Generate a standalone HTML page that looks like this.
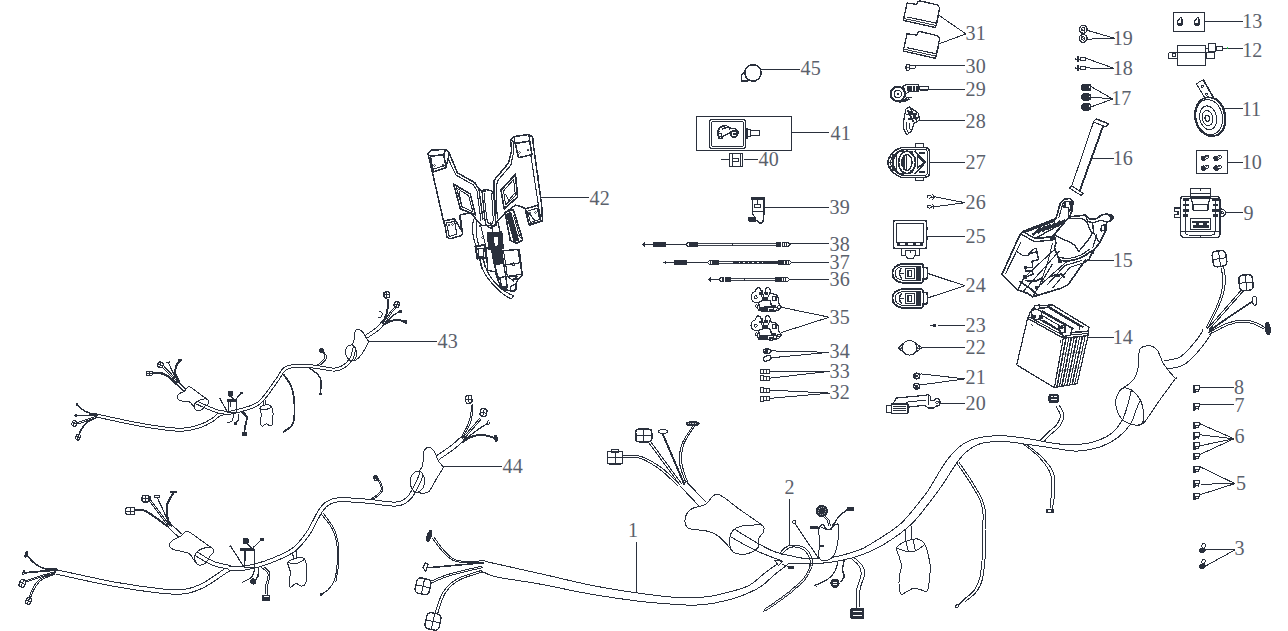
<!DOCTYPE html>
<html><head><meta charset="utf-8"><title>Electrical system parts diagram</title>
<style>
html,body{margin:0;padding:0;background:#fff;}
body{width:1288px;height:631px;overflow:hidden;font-family:"Liberation Serif",serif;}
svg{display:block;}
svg text{font-family:"Liberation Serif",serif;}
</style></head><body>
<svg width="1288" height="631" viewBox="0 0 1288 631" shape-rendering="crispEdges">
<rect x="0" y="0" width="1288" height="631" fill="#fff"/>
<g transform="translate(0,0.6)">
<text transform="translate(1242.3,27.2) scale(0.98,1.07)" font-size="20.5" fill="#5b616c">13</text>
<text transform="translate(1242.3,56.1) scale(0.98,1.07)" font-size="20.5" fill="#5b616c">12</text>
<text transform="translate(1241.7,115.3) scale(0.98,1.07)" font-size="20.5" fill="#5b616c">11</text>
<text transform="translate(1241.7,168.1) scale(0.98,1.07)" font-size="20.5" fill="#5b616c">10</text>
<text transform="translate(1243.4,219.6) scale(0.98,1.07)" font-size="20.5" fill="#5b616c">9</text>
<text transform="translate(1234.1,393.6) scale(0.98,1.07)" font-size="20.5" fill="#5b616c">8</text>
<text transform="translate(1234.6,411.1) scale(0.98,1.07)" font-size="20.5" fill="#5b616c">7</text>
<text transform="translate(1234.6,442.8) scale(0.98,1.07)" font-size="20.5" fill="#5b616c">6</text>
<text transform="translate(1236.1,489.6) scale(0.98,1.07)" font-size="20.5" fill="#5b616c">5</text>
<text transform="translate(1234.6,554.2) scale(0.98,1.07)" font-size="20.5" fill="#5b616c">3</text>
<text transform="translate(1112.8,44.2) scale(0.98,1.07)" font-size="20.5" fill="#5b616c">19</text>
<text transform="translate(1112.8,74.6) scale(0.98,1.07)" font-size="20.5" fill="#5b616c">18</text>
<text transform="translate(1111.3,104.2) scale(0.98,1.07)" font-size="20.5" fill="#5b616c">17</text>
<text transform="translate(1112.8,164.6) scale(0.98,1.07)" font-size="20.5" fill="#5b616c">16</text>
<text transform="translate(1112.7,266.3) scale(0.98,1.07)" font-size="20.5" fill="#5b616c">15</text>
<text transform="translate(1112.7,343.1) scale(0.98,1.07)" font-size="20.5" fill="#5b616c">14</text>
<text transform="translate(965.6,39.3) scale(0.98,1.07)" font-size="20.5" fill="#5b616c">31</text>
<text transform="translate(965.6,71.9) scale(0.98,1.07)" font-size="20.5" fill="#5b616c">30</text>
<text transform="translate(965.6,94.9) scale(0.98,1.07)" font-size="20.5" fill="#5b616c">29</text>
<text transform="translate(965.6,126.9) scale(0.98,1.07)" font-size="20.5" fill="#5b616c">28</text>
<text transform="translate(965.6,168.1) scale(0.98,1.07)" font-size="20.5" fill="#5b616c">27</text>
<text transform="translate(965.6,208.8) scale(0.98,1.07)" font-size="20.5" fill="#5b616c">26</text>
<text transform="translate(965.6,242.1) scale(0.98,1.07)" font-size="20.5" fill="#5b616c">25</text>
<text transform="translate(965.6,291.3) scale(0.98,1.07)" font-size="20.5" fill="#5b616c">24</text>
<text transform="translate(965.6,331.5) scale(0.98,1.07)" font-size="20.5" fill="#5b616c">23</text>
<text transform="translate(965.6,353.8) scale(0.98,1.07)" font-size="20.5" fill="#5b616c">22</text>
<text transform="translate(965.6,383.5) scale(0.98,1.07)" font-size="20.5" fill="#5b616c">21</text>
<text transform="translate(965.6,409.6) scale(0.98,1.07)" font-size="20.5" fill="#5b616c">20</text>
<text transform="translate(800.6,74.4) scale(0.98,1.07)" font-size="20.5" fill="#5b616c">45</text>
<text transform="translate(830.6,139.0) scale(0.98,1.07)" font-size="20.5" fill="#5b616c">41</text>
<text transform="translate(758.6,165.5) scale(0.98,1.07)" font-size="20.5" fill="#5b616c">40</text>
<text transform="translate(829.6,213.3) scale(0.98,1.07)" font-size="20.5" fill="#5b616c">39</text>
<text transform="translate(829.6,250.5) scale(0.98,1.07)" font-size="20.5" fill="#5b616c">38</text>
<text transform="translate(829.6,268.3) scale(0.98,1.07)" font-size="20.5" fill="#5b616c">37</text>
<text transform="translate(829.6,285.5) scale(0.98,1.07)" font-size="20.5" fill="#5b616c">36</text>
<text transform="translate(829.6,323.8) scale(0.98,1.07)" font-size="20.5" fill="#5b616c">35</text>
<text transform="translate(829.6,357.3) scale(0.98,1.07)" font-size="20.5" fill="#5b616c">34</text>
<text transform="translate(829.6,377.1) scale(0.98,1.07)" font-size="20.5" fill="#5b616c">33</text>
<text transform="translate(829.6,398.1) scale(0.98,1.07)" font-size="20.5" fill="#5b616c">32</text>
<text transform="translate(589.6,204.1) scale(0.98,1.07)" font-size="20.5" fill="#5b616c">42</text>
<text transform="translate(437.6,347.6) scale(0.98,1.07)" font-size="20.5" fill="#5b616c">43</text>
<text transform="translate(502.6,472.1) scale(0.98,1.07)" font-size="20.5" fill="#5b616c">44</text>
<text transform="translate(627.9,536.3) scale(0.98,1.07)" font-size="20.5" fill="#5b616c">1</text>
<text transform="translate(784.6,493.1) scale(0.98,1.07)" font-size="20.5" fill="#5b616c">2</text>
<line x1="1205.0" y1="20.9" x2="1243.0" y2="20.9" stroke="#2a303c" stroke-width="1"/>
<line x1="1222.7" y1="47.9" x2="1243.0" y2="47.9" stroke="#2a303c" stroke-width="1"/>
<line x1="1223.0" y1="107.9" x2="1243.0" y2="107.9" stroke="#2a303c" stroke-width="1"/>
<line x1="1227.6" y1="161.9" x2="1243.0" y2="161.9" stroke="#2a303c" stroke-width="1"/>
<line x1="1225.4" y1="211.9" x2="1243.0" y2="211.9" stroke="#2a303c" stroke-width="1"/>
<line x1="1199.7" y1="386.9" x2="1234.0" y2="386.9" stroke="#2a303c" stroke-width="1"/>
<line x1="1199.7" y1="403.9" x2="1234.0" y2="403.9" stroke="#2a303c" stroke-width="1"/>
<line x1="1200.3" y1="423.3" x2="1234.0" y2="438.2" stroke="#2a303c" stroke-width="1"/>
<line x1="1200.3" y1="434.2" x2="1234.0" y2="438.2" stroke="#2a303c" stroke-width="1"/>
<line x1="1200.3" y1="445.1" x2="1234.0" y2="438.2" stroke="#2a303c" stroke-width="1"/>
<line x1="1199.7" y1="454.0" x2="1234.0" y2="438.2" stroke="#2a303c" stroke-width="1"/>
<line x1="1200.3" y1="466.3" x2="1235.0" y2="483.0" stroke="#2a303c" stroke-width="1"/>
<line x1="1201.3" y1="483.6" x2="1235.0" y2="483.0" stroke="#2a303c" stroke-width="1"/>
<line x1="1199.3" y1="494.3" x2="1235.0" y2="483.0" stroke="#2a303c" stroke-width="1"/>
<line x1="1206.2" y1="548.9" x2="1235.0" y2="548.9" stroke="#2a303c" stroke-width="1"/>
<line x1="1206.2" y1="565.1" x2="1235.0" y2="549.3" stroke="#2a303c" stroke-width="1"/>
<line x1="1087.1" y1="29.7" x2="1114.5" y2="37.6" stroke="#2a303c" stroke-width="1"/>
<line x1="1087.1" y1="38.6" x2="1114.5" y2="37.6" stroke="#2a303c" stroke-width="1"/>
<line x1="1085.1" y1="57.4" x2="1114.5" y2="67.9" stroke="#2a303c" stroke-width="1"/>
<line x1="1085.1" y1="67.3" x2="1114.5" y2="67.9" stroke="#2a303c" stroke-width="1"/>
<line x1="1091.1" y1="86.1" x2="1112.9" y2="98.4" stroke="#2a303c" stroke-width="1"/>
<line x1="1091.1" y1="96.4" x2="1112.9" y2="98.4" stroke="#2a303c" stroke-width="1"/>
<line x1="1091.1" y1="106.3" x2="1112.9" y2="98.4" stroke="#2a303c" stroke-width="1"/>
<line x1="1091.5" y1="157.9" x2="1113.9" y2="157.9" stroke="#2a303c" stroke-width="1"/>
<line x1="1088.0" y1="259.9" x2="1113.8" y2="259.9" stroke="#2a303c" stroke-width="1"/>
<line x1="1087.0" y1="336.9" x2="1113.8" y2="336.9" stroke="#2a303c" stroke-width="1"/>
<line x1="939.2" y1="14.9" x2="965.9" y2="33.3" stroke="#2a303c" stroke-width="1"/>
<line x1="939.2" y1="43.2" x2="965.9" y2="33.3" stroke="#2a303c" stroke-width="1"/>
<line x1="914.5" y1="64.9" x2="965.3" y2="64.9" stroke="#2a303c" stroke-width="1"/>
<line x1="928.3" y1="88.9" x2="965.0" y2="88.9" stroke="#2a303c" stroke-width="1"/>
<line x1="919.4" y1="119.9" x2="965.0" y2="119.9" stroke="#2a303c" stroke-width="1"/>
<line x1="929.7" y1="161.9" x2="965.0" y2="161.9" stroke="#2a303c" stroke-width="1"/>
<line x1="935.2" y1="196.2" x2="965.0" y2="202.1" stroke="#2a303c" stroke-width="1"/>
<line x1="935.2" y1="206.1" x2="965.0" y2="202.1" stroke="#2a303c" stroke-width="1"/>
<line x1="926.3" y1="235.9" x2="965.0" y2="235.9" stroke="#2a303c" stroke-width="1"/>
<line x1="928.3" y1="273.0" x2="965.0" y2="285.2" stroke="#2a303c" stroke-width="1"/>
<line x1="928.3" y1="297.1" x2="965.0" y2="285.2" stroke="#2a303c" stroke-width="1"/>
<line x1="938.2" y1="324.9" x2="965.0" y2="324.9" stroke="#2a303c" stroke-width="1"/>
<line x1="921.8" y1="346.9" x2="965.0" y2="346.9" stroke="#2a303c" stroke-width="1"/>
<line x1="921.4" y1="373.3" x2="965.0" y2="378.3" stroke="#2a303c" stroke-width="1"/>
<line x1="921.4" y1="384.2" x2="965.0" y2="378.3" stroke="#2a303c" stroke-width="1"/>
<line x1="940.2" y1="402.9" x2="965.0" y2="402.9" stroke="#2a303c" stroke-width="1"/>
<line x1="761.3" y1="68.9" x2="799.9" y2="68.9" stroke="#2a303c" stroke-width="1"/>
<line x1="791.0" y1="131.9" x2="828.6" y2="131.9" stroke="#2a303c" stroke-width="1"/>
<line x1="743.5" y1="158.9" x2="758.3" y2="158.9" stroke="#2a303c" stroke-width="1"/>
<line x1="764.4" y1="206.9" x2="829.1" y2="206.9" stroke="#2a303c" stroke-width="1"/>
<line x1="790.0" y1="242.9" x2="829.0" y2="242.9" stroke="#2a303c" stroke-width="1"/>
<line x1="790.0" y1="261.9" x2="829.0" y2="261.9" stroke="#2a303c" stroke-width="1"/>
<line x1="790.0" y1="278.9" x2="829.0" y2="278.9" stroke="#2a303c" stroke-width="1"/>
<line x1="781.4" y1="306.7" x2="829.3" y2="316.6" stroke="#2a303c" stroke-width="1"/>
<line x1="781.4" y1="331.9" x2="829.3" y2="316.6" stroke="#2a303c" stroke-width="1"/>
<line x1="771.1" y1="350.3" x2="829.3" y2="351.7" stroke="#2a303c" stroke-width="1"/>
<line x1="771.1" y1="357.2" x2="829.3" y2="351.7" stroke="#2a303c" stroke-width="1"/>
<line x1="769.5" y1="370.9" x2="829.9" y2="370.9" stroke="#2a303c" stroke-width="1"/>
<line x1="769.5" y1="377.6" x2="829.9" y2="370.7" stroke="#2a303c" stroke-width="1"/>
<line x1="769.5" y1="389.5" x2="829.9" y2="392.5" stroke="#2a303c" stroke-width="1"/>
<line x1="769.5" y1="397.8" x2="829.9" y2="392.5" stroke="#2a303c" stroke-width="1"/>
<line x1="538.8" y1="196.9" x2="589.0" y2="196.9" stroke="#2a303c" stroke-width="1"/>
<line x1="368.3" y1="340.9" x2="437.0" y2="340.9" stroke="#2a303c" stroke-width="1"/>
<line x1="443.2" y1="465.9" x2="501.6" y2="465.9" stroke="#2a303c" stroke-width="1"/>
<line x1="636.5" y1="541.2" x2="636.5" y2="592.2" stroke="#2a303c" stroke-width="1"/>
<line x1="789.5" y1="497.9" x2="789.5" y2="545.0" stroke="#2a303c" stroke-width="1"/>
<rect x="1173.5" y="11.9" width="31.0" height="19.0" rx="0" stroke="#2a303c" stroke-width="1" fill="none" />
<path d="M1178.0,24 q-1.5,-3 1,-5 q1.5,-3.5 3,-0.5 l0,5.5 q-2,2.5 -4,0 z" stroke="#2a303c" stroke-width="1.2" fill="none" />
<rect x="1178.3" y="22.2" width="3.0" height="2.6" fill="#2a303c"/>
<path d="M1195.0,24 q-1.5,-3 1,-5 q1.5,-3.5 3,-0.5 l0,5.5 q-2,2.5 -4,0 z" stroke="#2a303c" stroke-width="1.2" fill="none" />
<rect x="1195.3" y="22.2" width="3.0" height="2.6" fill="#2a303c"/>
<rect x="1177.5" y="44.9" width="28.0" height="20.0" rx="0" stroke="#2a303c" stroke-width="1" fill="none" />
<line x1="1177.5" y1="51.9" x2="1205.0" y2="51.9" stroke="#2a303c" stroke-width="1"/>
<rect x="1208.5" y="42.9" width="7.0" height="8.0" rx="0" stroke="#2a303c" stroke-width="1" fill="none" />
<rect x="1216.5" y="45.9" width="6.0" height="4.0" rx="0" stroke="#2a303c" stroke-width="1" fill="none" />
<line x1="1205.0" y1="47.9" x2="1208.0" y2="47.9" stroke="#2a303c" stroke-width="1"/>
<line x1="1215.0" y1="47.9" x2="1217.0" y2="47.9" stroke="#2a303c" stroke-width="1"/>
<rect x="1168.5" y="51.9" width="9.0" height="6.0" rx="1.5" stroke="#2a303c" stroke-width="1" fill="none" />
<rect x="1172.2" y="53.2" width="3.0" height="3.0" rx="0" stroke="#2a303c" stroke-width="1" fill="none" />
<rect x="1206.5" y="51.9" width="8.0" height="6.0" rx="1.2" stroke="#2a303c" stroke-width="1" fill="none" />
<line x1="1205.2" y1="54.9" x2="1206.2" y2="54.9" stroke="#2a303c" stroke-width="1"/>
<line x1="1227.5" y1="46.2" x2="1227.5" y2="48.2" stroke="#22cc44" stroke-width="1"/>
<path d="M1196.3,83.2 L1203.2,79.2 L1217.2,103.5 L1211.0,107.5 Z" stroke="#2a303c" stroke-width="1" fill="none" stroke-linejoin="round"/>
<line x1="1203.2" y1="79.2" x2="1217.2" y2="103.5" stroke="#2a303c" stroke-width="1.6"/>
<circle cx="1202.3" cy="85.6" r="1.1" stroke="#2a303c" stroke-width="1" fill="none"/>
<circle cx="1206.6" cy="93.6" r="1.1" stroke="#2a303c" stroke-width="1" fill="none"/>
<ellipse cx="1210.2" cy="116.1" rx="15.2" ry="19.6" transform="rotate(-12 1210.2 116.1)" stroke="#2a303c" stroke-width="1.6" fill="#fff"/>
<ellipse cx="1209.2" cy="116.5" rx="13.2" ry="17.8" transform="rotate(-12 1209.2 116.5)" stroke="#2a303c" stroke-width="1" fill="none"/>
<ellipse cx="1208.2" cy="117.2" rx="8.5" ry="12" transform="rotate(-12 1208.2 117.2)" stroke="#2a303c" stroke-width="1" fill="none"/>
<ellipse cx="1207.6" cy="117.5" rx="5.3" ry="7.6" transform="rotate(-12 1207.6 117.5)" stroke="#2a303c" stroke-width="1" fill="none"/>
<ellipse cx="1207.3" cy="117.7" rx="2.2" ry="3" transform="rotate(-12 1207.3 117.7)" stroke="#2a303c" stroke-width="1.3" fill="none"/>
<path d="M1216,98.5 Q1226.5,106 1225,124 Q1223,131 1218,134.5" stroke="#2a303c" stroke-width="2.2" fill="none" />
<rect x="1196.5" y="149.9" width="31.0" height="23.0" rx="0" stroke="#2a303c" stroke-width="1" fill="none" />
<ellipse cx="1203.4" cy="157.9" rx="2.2" ry="2.4" transform="rotate(-30 1203.4 157.9)" stroke="#2a303c" stroke-width="1" fill="#2a303c"/>
<ellipse cx="1206.4" cy="156.7" rx="2.4" ry="1.6" transform="rotate(-20 1206.4 156.7)" stroke="#2a303c" stroke-width="1" fill="#fff"/>
<line x1="1201.0" y1="159.5" x2="1208.0" y2="155.1" stroke="#2a303c" stroke-width="0.8"/>
<ellipse cx="1216.2" cy="157.9" rx="2.2" ry="2.4" transform="rotate(-30 1216.2 157.9)" stroke="#2a303c" stroke-width="1" fill="#2a303c"/>
<ellipse cx="1219.2" cy="156.7" rx="2.4" ry="1.6" transform="rotate(-20 1219.2 156.7)" stroke="#2a303c" stroke-width="1" fill="#fff"/>
<line x1="1213.8" y1="159.5" x2="1220.8" y2="155.1" stroke="#2a303c" stroke-width="0.8"/>
<ellipse cx="1203.4" cy="167.7" rx="2.2" ry="2.4" transform="rotate(-30 1203.4 167.7)" stroke="#2a303c" stroke-width="1" fill="#2a303c"/>
<ellipse cx="1206.4" cy="166.5" rx="2.4" ry="1.6" transform="rotate(-20 1206.4 166.5)" stroke="#2a303c" stroke-width="1" fill="#fff"/>
<line x1="1201.0" y1="169.3" x2="1208.0" y2="164.9" stroke="#2a303c" stroke-width="0.8"/>
<ellipse cx="1216.2" cy="167.7" rx="2.2" ry="2.4" transform="rotate(-30 1216.2 167.7)" stroke="#2a303c" stroke-width="1" fill="#2a303c"/>
<ellipse cx="1219.2" cy="166.5" rx="2.4" ry="1.6" transform="rotate(-20 1219.2 166.5)" stroke="#2a303c" stroke-width="1" fill="#fff"/>
<line x1="1213.8" y1="169.3" x2="1220.8" y2="164.9" stroke="#2a303c" stroke-width="0.8"/>
<rect x="1190.5" y="187.9" width="20.0" height="9.0" rx="1.5" stroke="#2a303c" stroke-width="1.3" fill="#fff" />
<line x1="1190.4" y1="192.9" x2="1210.8" y2="192.9" stroke="#2a303c" stroke-width="1"/>
<line x1="1200.5" y1="187.4" x2="1200.5" y2="190.0" stroke="#2a303c" stroke-width="1"/>
<path d="M1184.5,195.6 H1216 Q1220,195.6 1220,199.6 V233 Q1220,237 1216,237 H1184.5 Q1180.5,237 1180.5,233 V199.6 Q1180.5,195.6 1184.5,195.6 Z" stroke="#2a303c" stroke-width="1.4" fill="none" />
<path d="M1185.5,198 H1215 V231.5 Q1215,234.4 1212,234.4 H1188.5 Q1185.5,234.4 1185.5,231.5 Z" stroke="#2a303c" stroke-width="1" fill="none" />
<line x1="1181.0" y1="230.9" x2="1220.0" y2="230.9" stroke="#2a303c" stroke-width="1.4"/>
<path d="M1190.0,196.0 L1193.0,203.5 L1193.0,209.5 L1208.0,209.5 L1208.0,203.5 L1211.0,196.0" stroke="#2a303c" stroke-width="1.1" fill="none" stroke-linejoin="round"/>
<line x1="1193.0" y1="203.9" x2="1208.0" y2="203.9" stroke="#2a303c" stroke-width="1"/>
<rect x="1182.5" y="197.5" width="6.5" height="3.0" fill="#2a303c"/>
<rect x="1183.0" y="203.0" width="5.5" height="2.6" fill="#2a303c"/>
<rect x="1182.5" y="208.3" width="6.5" height="2.6" fill="#2a303c"/>
<rect x="1183.3" y="213.5" width="5.0" height="2.6" fill="#2a303c"/>
<rect x="1212.0" y="197.5" width="6.5" height="3.0" fill="#2a303c"/>
<rect x="1212.5" y="203.0" width="5.5" height="2.6" fill="#2a303c"/>
<rect x="1212.0" y="208.3" width="6.5" height="2.6" fill="#2a303c"/>
<rect x="1212.8" y="213.5" width="5.0" height="2.6" fill="#2a303c"/>
<rect x="1190.5" y="217.9" width="20.0" height="11.0" rx="0" stroke="#2a303c" stroke-width="1.4" fill="none" />
<rect x="1192.0" y="220.3" width="17.0" height="2.1" fill="#2a303c"/>
<rect x="1193.0" y="224.8" width="15.5" height="2.2" fill="#2a303c"/>
<rect x="1196.0" y="222.4" width="3.0" height="2.4" fill="#2a303c"/>
<rect x="1203.0" y="222.4" width="4.0" height="2.4" fill="#2a303c"/>
<path d="M1180.5,207.4 H1174.6 V210.6 H1178 V213.8 H1174.6 V217 H1180.5" stroke="#2a303c" stroke-width="1.1" fill="none" />
<path d="M1220,208.2 Q1225.6,208.6 1225.6,212.2 Q1225.6,215.8 1220,216.2" stroke="#2a303c" stroke-width="1.1" fill="none" />
<circle cx="1222.2" cy="212.2" r="1.2" stroke="#2a303c" stroke-width="1" fill="none"/>
<line x1="1200.5" y1="234.5" x2="1200.5" y2="237.0" stroke="#2a303c" stroke-width="1"/>
<rect x="1193.8" y="385.2" width="5.6" height="3.6" rx="0" stroke="#2a303c" stroke-width="1" fill="none" />
<path d="M1194.0,385 V392.4" stroke="#2a303c" stroke-width="1.5" fill="none" />
<path d="M1195.8999999999999,389.2 V392.2 M1198.5,389.2 V391.4 M1195.8999999999999,390.6 H1198.5" stroke="#2a303c" stroke-width="1.1" fill="none" />
<rect x="1193.8" y="402.7" width="5.6" height="3.6" rx="0" stroke="#2a303c" stroke-width="1" fill="none" />
<path d="M1194.0,402.5 V409.9" stroke="#2a303c" stroke-width="1.5" fill="none" />
<path d="M1195.8999999999999,406.7 V409.7 M1198.5,406.7 V408.9 M1195.8999999999999,408.1 H1198.5" stroke="#2a303c" stroke-width="1.1" fill="none" />
<rect x="1193.8" y="421.5" width="5.6" height="3.6" rx="0" stroke="#2a303c" stroke-width="1" fill="none" />
<path d="M1194.0,421.3 V428.7" stroke="#2a303c" stroke-width="1.5" fill="none" />
<path d="M1195.8999999999999,425.5 V428.5 M1198.5,425.5 V427.7 M1195.8999999999999,426.90000000000003 H1198.5" stroke="#2a303c" stroke-width="1.1" fill="none" />
<rect x="1193.8" y="431.8" width="5.6" height="3.6" rx="0" stroke="#2a303c" stroke-width="1" fill="none" />
<path d="M1194.0,431.6 V439.0" stroke="#2a303c" stroke-width="1.5" fill="none" />
<path d="M1195.8999999999999,435.8 V438.8 M1198.5,435.8 V438.0 M1195.8999999999999,437.20000000000005 H1198.5" stroke="#2a303c" stroke-width="1.1" fill="none" />
<rect x="1193.8" y="442.2" width="5.6" height="3.6" rx="0" stroke="#2a303c" stroke-width="1" fill="none" />
<path d="M1194.0,442 V449.4" stroke="#2a303c" stroke-width="1.5" fill="none" />
<path d="M1195.8999999999999,446.2 V449.2 M1198.5,446.2 V448.4 M1195.8999999999999,447.6 H1198.5" stroke="#2a303c" stroke-width="1.1" fill="none" />
<rect x="1193.8" y="452.6" width="5.6" height="3.6" rx="0" stroke="#2a303c" stroke-width="1" fill="none" />
<path d="M1194.0,452.4 V459.79999999999995" stroke="#2a303c" stroke-width="1.5" fill="none" />
<path d="M1195.8999999999999,456.59999999999997 V459.59999999999997 M1198.5,456.59999999999997 V458.79999999999995 M1195.8999999999999,458.0 H1198.5" stroke="#2a303c" stroke-width="1.1" fill="none" />
<rect x="1193.8" y="465.5" width="5.6" height="3.6" rx="0" stroke="#2a303c" stroke-width="1" fill="none" />
<path d="M1194.0,465.3 V472.7" stroke="#2a303c" stroke-width="1.5" fill="none" />
<path d="M1195.8999999999999,469.5 V472.5 M1198.5,469.5 V471.7 M1195.8999999999999,470.90000000000003 H1198.5" stroke="#2a303c" stroke-width="1.1" fill="none" />
<rect x="1193.8" y="479.7" width="5.6" height="3.6" rx="0" stroke="#2a303c" stroke-width="1" fill="none" />
<path d="M1194.0,479.5 V486.9" stroke="#2a303c" stroke-width="1.5" fill="none" />
<path d="M1195.8999999999999,483.7 V486.7 M1198.5,483.7 V485.9 M1195.8999999999999,485.1 H1198.5" stroke="#2a303c" stroke-width="1.1" fill="none" />
<rect x="1193.8" y="492.5" width="5.6" height="3.6" rx="0" stroke="#2a303c" stroke-width="1" fill="none" />
<path d="M1194.0,492.3 V499.7" stroke="#2a303c" stroke-width="1.5" fill="none" />
<path d="M1195.8999999999999,496.5 V499.5 M1198.5,496.5 V498.7 M1195.8999999999999,497.90000000000003 H1198.5" stroke="#2a303c" stroke-width="1.1" fill="none" />
<ellipse cx="1203.6" cy="545.0" rx="1.7" ry="2.6" transform="rotate(10 1203.6 545.0)" stroke="#2a303c" stroke-width="1" fill="none"/>
<ellipse cx="1202.4" cy="549.8" rx="3.1" ry="2.3" transform="rotate(-15 1202.4 549.8)" stroke="#2a303c" stroke-width="1" fill="#2a303c"/>
<line x1="1199.4" y1="551.0" x2="1206.4" y2="548.8" stroke="#2a303c" stroke-width="1.1"/>
<ellipse cx="1203.6" cy="560.9" rx="1.7" ry="2.6" transform="rotate(10 1203.6 560.9)" stroke="#2a303c" stroke-width="1" fill="none"/>
<ellipse cx="1202.4" cy="565.7" rx="3.1" ry="2.3" transform="rotate(-15 1202.4 565.7)" stroke="#2a303c" stroke-width="1" fill="#2a303c"/>
<line x1="1199.4" y1="566.9" x2="1206.4" y2="564.7" stroke="#2a303c" stroke-width="1.1"/>
<circle cx="1083.2" cy="28.7" r="3.9" stroke="#2a303c" stroke-width="1.3" fill="none"/>
<circle cx="1083.2" cy="28.7" r="1.8" stroke="#2a303c" stroke-width="1" fill="none"/>
<line x1="1080.6" y1="25.9" x2="1085.8" y2="31.5" stroke="#2a303c" stroke-width="0.9"/>
<circle cx="1083.2" cy="37.8" r="3.9" stroke="#2a303c" stroke-width="1.3" fill="none"/>
<circle cx="1083.2" cy="37.8" r="1.8" stroke="#2a303c" stroke-width="1" fill="none"/>
<line x1="1080.6" y1="35.0" x2="1085.8" y2="40.6" stroke="#2a303c" stroke-width="0.9"/>
<line x1="1075.2" y1="58.9" x2="1085.2" y2="58.9" stroke="#2a303c" stroke-width="1"/>
<rect x="1080.5" y="57.0" width="4.8" height="2.8" rx="0" stroke="#2a303c" stroke-width="1" fill="#fff" />
<path d="M1077.6,55.4 V61.4 M1078.9,55.8 V61.0" stroke="#2a303c" stroke-width="1.1" fill="none" />
<path d="M1075.4,57.4 L1076.8,59.4" stroke="#2a303c" stroke-width="1" fill="none" />
<line x1="1075.2" y1="67.9" x2="1085.2" y2="67.9" stroke="#2a303c" stroke-width="1"/>
<rect x="1080.5" y="66.0" width="4.8" height="2.8" rx="0" stroke="#2a303c" stroke-width="1" fill="#fff" />
<path d="M1077.6,64.4 V70.4 M1078.9,64.80000000000001 V70.0" stroke="#2a303c" stroke-width="1.1" fill="none" />
<path d="M1075.4,66.4 L1076.8,68.4" stroke="#2a303c" stroke-width="1" fill="none" />
<rect x="1081.2" y="83.2" width="9.9" height="7.4" rx="2.3" fill="#2a303c"/>
<rect x="1088.6" y="85.4" width="1.6" height="1.7" fill="#fff"/>
<rect x="1081.2" y="92.7" width="9.9" height="7.4" rx="2.3" fill="#2a303c"/>
<rect x="1088.6" y="94.9" width="1.6" height="1.7" fill="#fff"/>
<rect x="1081.2" y="102.6" width="9.9" height="7.4" rx="2.3" fill="#2a303c"/>
<rect x="1088.6" y="104.8" width="1.6" height="1.7" fill="#fff"/>
<path d="M1093.0,121.2 L1096.6,118.2 L1108.6,123.2 L1105.8,126.2 Z" stroke="#2a303c" stroke-width="1.1" fill="#fff" stroke-linejoin="round"/>
<line x1="1097.5" y1="119.6" x2="1104.0" y2="122.3" stroke="#2a303c" stroke-width="0.8"/>
<line x1="1093.4" y1="121.8" x2="1071.4" y2="186.3" stroke="#2a303c" stroke-width="1"/>
<line x1="1103.2" y1="125.2" x2="1079.6" y2="190.6" stroke="#2a303c" stroke-width="1.9"/>
<path d="M1069.3,187.2 L1072.2,185.6 L1083.4,192.8 L1080.6,194.6 Z" stroke="#2a303c" stroke-width="1.1" fill="#fff" stroke-linejoin="round"/>
<line x1="1083.4" y1="192.8" x2="1080.6" y2="194.6" stroke="#2a303c" stroke-width="1.8"/>
<path d="M907.1,2.4 L916.6,3.8 L917.6,1.2 L919.8,0.2 L937.6,4.4 L939.6,7.2 L936.6,22.4 L935.4,27.0 L903.4,19.8 L903.8,17.4 Z" stroke="#2a303c" stroke-width="1.3" fill="#fff" stroke-linejoin="round"/>
<line x1="906.6" y1="16.3" x2="936.6" y2="22.6" stroke="#2a303c" stroke-width="1.1"/>
<line x1="904.4" y1="18.0" x2="935.8" y2="24.8" stroke="#2a303c" stroke-width="0.9"/>
<line x1="936.6" y1="22.4" x2="938.0" y2="16.0" stroke="#2a303c" stroke-width="1.6"/>
<path d="M907.1,33.1 L916.6,34.5 L917.6,31.9 L919.8,30.9 L937.6,35.1 L939.6,37.9 L936.6,53.1 L935.4,57.7 L903.4,50.5 L903.8,48.1 Z" stroke="#2a303c" stroke-width="1.3" fill="#fff" stroke-linejoin="round"/>
<line x1="906.6" y1="47.0" x2="936.6" y2="53.3" stroke="#2a303c" stroke-width="1.1"/>
<line x1="904.4" y1="48.7" x2="935.8" y2="55.5" stroke="#2a303c" stroke-width="0.9"/>
<line x1="936.6" y1="53.1" x2="938.0" y2="46.7" stroke="#2a303c" stroke-width="1.6"/>
<ellipse cx="907.8" cy="66.8" rx="1.9" ry="3.2" transform="rotate(0 907.8 66.8)" stroke="#2a303c" stroke-width="1.2" fill="none"/>
<rect x="909.6" y="65.2" width="5.6" height="3.2" rx="1.2" stroke="#2a303c" stroke-width="1" fill="#fff" />
<line x1="905.6" y1="66.9" x2="909.6" y2="66.9" stroke="#2a303c" stroke-width="0.8"/>
<circle cx="897.8" cy="93.4" r="7.2" stroke="#2a303c" stroke-width="2" fill="#fff"/>
<circle cx="897.8" cy="93.4" r="3.6" stroke="#2a303c" stroke-width="1" fill="none"/>
<circle cx="897.8" cy="93.4" r="0.9" stroke="#2a303c" stroke-width="1" fill="#2a303c"/>
<path d="M903,85.6 L906,84 H918.6 V91.2 H909 L906,93 Z" stroke="#2a303c" stroke-width="1.2" fill="#fff" />
<rect x="906.5" y="85.2" width="5.0" height="5.6" fill="#2a303c"/>
<rect x="913.0" y="85.2" width="2.0" height="5.6" fill="#2a303c"/>
<rect x="916.4" y="85.2" width="1.6" height="5.6" fill="#2a303c"/>
<rect x="919.4" y="85.6" width="8.9" height="3.8" rx="1" stroke="#2a303c" stroke-width="1.2" fill="#fff" />
<path d="M904.5,99.5 Q908,95 911.5,97.5" stroke="#2a303c" stroke-width="1.1" fill="none" />
<path d="M899,101.2 Q905,101.4 909.6,98.2" stroke="#2a303c" stroke-width="1.6" fill="none" />
<path d="M905.8,108.5 L909.5,106.5 L918.2,112.5 L919.6,119.6 L914,122.5 L911.6,130 L907.2,134.2 Q902.6,129.5 903.4,122 Z" stroke="#2a303c" stroke-width="1.3" fill="#fff" />
<path d="M907.5,109.5 L913.5,121.5 M910.8,108.6 L917,120.8 M906.4,113.8 L916.8,113.2 M908,118.5 L918.4,117.2" stroke="#2a303c" stroke-width="1.6" fill="none" />
<path d="M906.6,121.5 Q905.2,127.5 908.4,132 M909.8,122.4 Q908.6,127 910.6,129.6" stroke="#2a303c" stroke-width="1" fill="none" />
<rect x="909.2" y="110.4" width="3.0" height="2.4" fill="#2a303c"/>
<rect x="913.2" y="114.6" width="3.0" height="2.4" fill="#2a303c"/>
<path d="M901.5,146.8 H924.4 Q929.6,146.8 929.6,152 V171.5 Q929.6,176.8 924.4,176.8 H901.5 Q889.5,172.5 887.6,161.8 Q889.5,151 901.5,146.8 Z" stroke="#2a303c" stroke-width="1.5" fill="#fff" />
<rect x="915.2" y="142.9" width="8.2" height="4.0" rx="0" stroke="#2a303c" stroke-width="1.2" fill="#fff" />
<rect x="915.2" y="176.8" width="8.2" height="3.4" rx="0" stroke="#2a303c" stroke-width="1.2" fill="#fff" />
<path d="M903,148.4 H923.6 Q927.6,148.4 927.6,152.4 V171.2 Q927.6,175.2 923.6,175.2 H903 Q892,171 890.2,161.8 Q892,152.6 903,148.4 Z" stroke="#2a303c" stroke-width="1" fill="none" />
<ellipse cx="907.0" cy="161.8" rx="8.4" ry="11.2" transform="rotate(0 907.0 161.8)" stroke="#2a303c" stroke-width="1.6" fill="none"/>
<ellipse cx="907.0" cy="161.8" rx="5" ry="8" transform="rotate(0 907.0 161.8)" stroke="#2a303c" stroke-width="1.3" fill="none"/>
<path d="M903.6,154 V169.6 M906.4,153.6 V170" stroke="#2a303c" stroke-width="1.8" fill="none" />
<path d="M914.8,150.2 L925.4,161.8 L914.8,173.4 M917.6,156 L924,161.8 L917.6,167.6 Z" stroke="#2a303c" stroke-width="1.5" fill="none" />
<path d="M893,153.6 V170 M896.2,151.6 V172" stroke="#2a303c" stroke-width="1.3" fill="none" />
<path d="M888.6,156.4 L892.6,158 M888.2,161.8 H892.6 M888.6,167.2 L892.6,165.6" stroke="#2a303c" stroke-width="1.2" fill="none" />
<rect x="918.5" y="151.2" width="6.0" height="2.2" fill="#2a303c"/>
<rect x="918.5" y="170.4" width="6.0" height="2.2" fill="#2a303c"/>
<rect x="899.0" y="149.6" width="5.0" height="2.0" fill="#2a303c"/>
<rect x="899.0" y="172.2" width="5.0" height="2.0" fill="#2a303c"/>
<rect x="910.0" y="150.5" width="3.4" height="3.0" fill="#2a303c"/>
<rect x="910.0" y="169.8" width="3.4" height="3.0" fill="#2a303c"/>
<path d="M898.6,150.5 Q893,156 893,161.8 Q893,167.6 898.6,173.2" stroke="#2a303c" stroke-width="1.8" fill="none" />
<path d="M911.5,153 L915.5,158 M911.5,170.6 L915.5,165.6" stroke="#2a303c" stroke-width="1.6" fill="none" />
<rect x="900.5" y="158.2" width="2.2" height="7.2" fill="#2a303c"/>
<ellipse cx="929.4" cy="196.2" rx="2" ry="1.4" transform="rotate(0 929.4 196.2)" stroke="#2a303c" stroke-width="1" fill="none"/>
<path d="M931.4,196.4 H935.2" stroke="#2a303c" stroke-width="1" fill="none" />
<path d="M932.6,193.8 L934.2,196.4 L932.6,199.0 M933.6,194.0 V198.8" stroke="#2a303c" stroke-width="1.1" fill="none" />
<ellipse cx="929.4" cy="206.1" rx="2" ry="1.4" transform="rotate(0 929.4 206.1)" stroke="#2a303c" stroke-width="1" fill="none"/>
<path d="M931.4,206.3 H935.2" stroke="#2a303c" stroke-width="1" fill="none" />
<path d="M932.6,203.70000000000002 L934.2,206.3 L932.6,208.9 M933.6,203.9 V208.70000000000002" stroke="#2a303c" stroke-width="1.1" fill="none" />
<rect x="893.5" y="219.9" width="33.0" height="28.0" rx="2.2" stroke="#2a303c" stroke-width="1.5" fill="#fff" />
<rect x="896.5" y="222.9" width="27.0" height="19.0" rx="0" stroke="#2a303c" stroke-width="1.3" fill="none" />
<line x1="896.6" y1="244.9" x2="923.4" y2="244.9" stroke="#2a303c" stroke-width="1"/>
<rect x="902.0" y="219.0" width="4.6" height="1.3" fill="#2a303c"/>
<rect x="913.0" y="219.0" width="4.6" height="1.3" fill="#2a303c"/>
<rect x="892.6" y="225.0" width="1.3" height="4.0" fill="#2a303c"/>
<rect x="892.6" y="233.0" width="1.3" height="4.0" fill="#2a303c"/>
<rect x="926.2" y="226.0" width="1.3" height="3.6" fill="#2a303c"/>
<rect x="926.2" y="236.0" width="1.3" height="3.6" fill="#2a303c"/>
<rect x="897.4" y="241.8" width="3.0" height="2.4" fill="#2a303c"/>
<rect x="919.6" y="241.8" width="3.0" height="2.4" fill="#2a303c"/>
<rect x="905.0" y="242.4" width="3.0" height="1.6" fill="#2a303c"/>
<rect x="912.5" y="242.4" width="3.0" height="1.6" fill="#2a303c"/>
<path d="M901.6,247.6 V253.6 Q901.6,254.8 903,254.8 H905.6 L907.6,257.6 H913.2 L915.2,254.8 H918 Q919.4,254.8 919.4,253.6 V247.6" stroke="#2a303c" stroke-width="1.3" fill="none" />
<path d="M905.6,254.8 V249.6 H915.2 V254.8 M910.4,249.6 V252.2" stroke="#2a303c" stroke-width="1.1" fill="none" />
<path d="M902.5,263.2 H920.5 Q923,263.2 923,265.59999999999997 V266.8 H925.4 Q927.4,266.8 927.4,268.8 V276.59999999999997 Q927.4,278.59999999999997 925.4,278.59999999999997 H923 V279.8 Q923,282.2 920.5,282.2 H902.5 Q892.4,280.2 892.4,272.7 Q892.4,265.2 902.5,263.2 Z" stroke="#2a303c" stroke-width="1.8" fill="#fff" />
<path d="M903,265.59999999999997 H920 V279.8 H903 Q895,278.2 895,272.7 Q895,267.2 903,265.59999999999997 Z" stroke="#2a303c" stroke-width="1" fill="none" />
<rect x="905.5" y="267.9" width="9.0" height="10.0" rx="0" stroke="#2a303c" stroke-width="1.5" fill="none" />
<rect x="908.0" y="269.6" width="3.8" height="6.2" rx="0" stroke="#2a303c" stroke-width="1.3" fill="none" />
<path d="M917,266.0 V279.4 M919.2,266.2 V279.2" stroke="#2a303c" stroke-width="1.5" fill="none" />
<path d="M901.6,267.4 Q897.4,272.7 901.6,278.0 M899,272.7 H903.6" stroke="#2a303c" stroke-width="1.4" fill="none" />
<line x1="923.5" y1="266.8" x2="923.5" y2="278.6" stroke="#2a303c" stroke-width="1"/>
<path d="M902.5,288.3 H920.5 Q923,288.3 923,290.7 V291.90000000000003 H925.4 Q927.4,291.90000000000003 927.4,293.90000000000003 V301.7 Q927.4,303.7 925.4,303.7 H923 V304.90000000000003 Q923,307.3 920.5,307.3 H902.5 Q892.4,305.3 892.4,297.8 Q892.4,290.3 902.5,288.3 Z" stroke="#2a303c" stroke-width="1.8" fill="#fff" />
<path d="M903,290.7 H920 V304.90000000000003 H903 Q895,303.3 895,297.8 Q895,292.3 903,290.7 Z" stroke="#2a303c" stroke-width="1" fill="none" />
<rect x="905.5" y="292.9" width="9.0" height="10.0" rx="0" stroke="#2a303c" stroke-width="1.5" fill="none" />
<rect x="908.0" y="294.7" width="3.8" height="6.2" rx="0" stroke="#2a303c" stroke-width="1.3" fill="none" />
<path d="M917,291.1 V304.5 M919.2,291.3 V304.3" stroke="#2a303c" stroke-width="1.5" fill="none" />
<path d="M901.6,292.5 Q897.4,297.8 901.6,303.1 M899,297.8 H903.6" stroke="#2a303c" stroke-width="1.4" fill="none" />
<line x1="923.5" y1="291.9" x2="923.5" y2="303.7" stroke="#2a303c" stroke-width="1"/>
<rect x="933.4" y="323.4" width="2.8" height="3.0" fill="#2a303c"/>
<line x1="930.3" y1="324.9" x2="936.4" y2="324.9" stroke="#2a303c" stroke-width="1.2"/>
<path d="M898.0,347.2 L906.0,340.6 L913.0,340.6 L921.8,347.2 L913.0,353.8 L906.0,353.8 Z" stroke="#2a303c" stroke-width="1" fill="#fff" stroke-linejoin="round"/>
<circle cx="909.5" cy="347.2" r="7.3" stroke="#2a303c" stroke-width="1" fill="#fff"/>
<circle cx="900.6" cy="347.2" r="1.2" stroke="#2a303c" stroke-width="0.9" fill="none"/>
<circle cx="918.8" cy="347.2" r="1.2" stroke="#2a303c" stroke-width="0.9" fill="none"/>
<circle cx="916.6" cy="375.4" r="2.9" stroke="#2a303c" stroke-width="1.4" fill="none"/>
<circle cx="916.6" cy="375.4" r="1" stroke="#2a303c" stroke-width="1" fill="#2a303c"/>
<path d="M914,372.79999999999995 L919.2,378.0 M919.2,372.79999999999995 L914,378.0" stroke="#2a303c" stroke-width="0.9" fill="none" />
<line x1="919.5" y1="373.8" x2="921.4" y2="373.4" stroke="#2a303c" stroke-width="1"/>
<circle cx="916.6" cy="385.6" r="2.9" stroke="#2a303c" stroke-width="1.4" fill="none"/>
<circle cx="916.6" cy="385.6" r="1" stroke="#2a303c" stroke-width="1" fill="#2a303c"/>
<path d="M914,383.0 L919.2,388.20000000000005 M919.2,383.0 L914,388.20000000000005" stroke="#2a303c" stroke-width="0.9" fill="none" />
<line x1="919.5" y1="384.0" x2="921.4" y2="383.6" stroke="#2a303c" stroke-width="1"/>
<path d="M893,403 L896.5,397.4 L922.6,395 L927.8,394.2 Q930.4,394.4 930.6,397 V399.6 H934.6 Q936,396.6 938.6,398 Q940.6,400.6 940,403.4 Q939.2,406 936.4,405.4 L933.4,407.4 H928.2 Q926.2,405 923.4,404.8 L904,407 L901.6,410" stroke="#2a303c" stroke-width="1.2" fill="#fff" />
<path d="M904,407 L906.4,401.6 L926,399.4 M928,394.4 V404" stroke="#2a303c" stroke-width="1" fill="none" />
<rect x="886.5" y="404.9" width="6.0" height="7.0" rx="1.2" stroke="#2a303c" stroke-width="1.1" fill="#fff" />
<path d="M893.2,403.2 H906.4 Q908.2,403.2 908.2,405 V411.2 Q908.2,413 906.4,413 H893.2 Q891.4,413 891.4,411.2 V405 Q891.4,403.2 893.2,403.2 Z" stroke="#2a303c" stroke-width="1.6" fill="#fff" />
<path d="M893.4,405.8 H906 M893.4,408 H906 M893.4,410.2 H906" stroke="#2a303c" stroke-width="1.3" fill="none" />
<circle cx="937.2" cy="401.8" r="1.3" stroke="#2a303c" stroke-width="0.9" fill="none"/>
<path d="M741.2,74.4 L744.0,72.0 L748.0,73.0 L748.0,80.4 L741.2,80.4 Z" stroke="#2a303c" stroke-width="1.1" fill="none" stroke-linejoin="round"/>
<circle cx="753.0" cy="72.3" r="8.2" stroke="#2a303c" stroke-width="1.5" fill="#fff"/>
<line x1="750.5" y1="80.9" x2="755.5" y2="80.9" stroke="#2a303c" stroke-width="1.4"/>
<rect x="696.5" y="115.9" width="95.0" height="34.0" rx="0" stroke="#2a303c" stroke-width="1" fill="none" />
<rect x="709.5" y="118.9" width="36.0" height="29.0" rx="3.2" stroke="#2a303c" stroke-width="1.3" fill="#fff" />
<rect x="711.5" y="120.9" width="32.0" height="25.0" rx="2.2" stroke="#2a303c" stroke-width="1.1" fill="none" />
<path d="M717.6,131.6 Q718.4,127.4 722.6,125.6 L726.6,124.8 M722,128.6 L728.6,126.2 L731.2,128.4 M718.6,136 Q716.4,132.4 719.8,130.4 M721.2,136.6 L733,130.4 M718.4,137 Q721.2,139.4 723,136.8" stroke="#2a303c" stroke-width="1.5" fill="none" />
<circle cx="734.2" cy="133.4" r="3.3" stroke="#2a303c" stroke-width="1.7" fill="none"/>
<circle cx="734.2" cy="133.4" r="1" stroke="#2a303c" stroke-width="1" fill="#2a303c"/>
<path d="M728.6,128.8 Q732.4,126.8 736,128.4 Q738.6,130.4 738.2,133.6" stroke="#2a303c" stroke-width="1.3" fill="none" />
<circle cx="719.6" cy="134.4" r="1.8" stroke="#2a303c" stroke-width="1.3" fill="none"/>
<rect x="745.0" y="127.4" width="2.6" height="10.6" fill="#2a303c"/>
<rect x="747.6" y="129.2" width="2.6" height="7.0" rx="0" stroke="#2a303c" stroke-width="1" fill="#fff" />
<rect x="750.5" y="129.9" width="9.0" height="5.0" rx="0" stroke="#2a303c" stroke-width="1.1" fill="#fff" />
<line x1="721.3" y1="158.9" x2="729.6" y2="158.9" stroke="#2a303c" stroke-width="1.4"/>
<rect x="729.5" y="152.9" width="13.0" height="13.0" rx="1" stroke="#2a303c" stroke-width="1.1" fill="#fff" />
<line x1="732.5" y1="152.9" x2="732.5" y2="165.4" stroke="#2a303c" stroke-width="1"/>
<line x1="740.5" y1="152.9" x2="740.5" y2="165.4" stroke="#2a303c" stroke-width="1.6"/>
<path d="M732.4,157.4 H738.4 V160.4 H732.4" stroke="#2a303c" stroke-width="1" fill="none" />
<line x1="750.6" y1="197.8" x2="764.6" y2="197.8" stroke="#2a303c" stroke-width="2.2"/>
<path d="M752.4,199 V213.4 L754.4,216 V219.6 H757.6 Q758.6,223 761.4,222.6 Q763.6,221.6 763.2,218.4 L763.4,213.4 V199" stroke="#2a303c" stroke-width="1.2" fill="#fff" />
<line x1="763.6" y1="199.0" x2="763.6" y2="214.0" stroke="#2a303c" stroke-width="1.8"/>
<rect x="754.6" y="204.2" width="5.6" height="3.0" rx="0" stroke="#2a303c" stroke-width="1.1" fill="none" />
<line x1="757.5" y1="199.0" x2="757.5" y2="204.2" stroke="#2a303c" stroke-width="1.6"/>
<line x1="752.4" y1="210.9" x2="763.4" y2="210.9" stroke="#2a303c" stroke-width="1"/>
<path d="M748.6,216.6 H756.4 M748.6,218.4 H756.4 M748.6,220.2 H756.4" stroke="#2a303c" stroke-width="1.4" fill="none" />
<path d="M748.6,216 V220.8" stroke="#2a303c" stroke-width="1.2" fill="none" />
<path d="M644.8,242.1 L642.4,243.9 L644.8,245.70000000000002" stroke="#2a303c" stroke-width="1" fill="none" />
<line x1="643.4" y1="243.9" x2="653.0" y2="243.9" stroke="#2a303c" stroke-width="1.4"/>
<rect x="653.0" y="241.5" width="13.0" height="4.8" fill="#2a303c"/>
<line x1="666.0" y1="243.9" x2="686.2" y2="243.9" stroke="#2a303c" stroke-width="1.5"/>
<path d="M687.6,242.1 L686.2,243.9 L687.6,245.70000000000002 H690.8000000000001 V242.1 Z" stroke="#2a303c" stroke-width="1" fill="#fff" />
<path d="M689.2,241.9 V245.9" stroke="#2a303c" stroke-width="1" fill="none" />
<rect x="691.4" y="241.6" width="6.1" height="4.6" fill="#2a303c"/>
<path d="M697.5,242.8 H776 M697.5,245.0 H776" stroke="#2a303c" stroke-width="0.9" fill="none" />
<line x1="732.5" y1="242.8" x2="732.5" y2="245.0" stroke="#2a303c" stroke-width="1.2"/>
<rect x="776.0" y="241.6" width="5.4" height="4.6" fill="#2a303c"/>
<path d="M782,242.20000000000002 H788.4 L790,243.9 L788.4,245.6 H782 Z" stroke="#2a303c" stroke-width="1" fill="#fff" />
<path d="M784.4,242.20000000000002 V245.6 M786.6,242.20000000000002 V245.6" stroke="#2a303c" stroke-width="1.2" fill="none" />
<path d="M666.6,260.09999999999997 L664.2,261.9 L666.6,263.7" stroke="#2a303c" stroke-width="1" fill="none" />
<line x1="665.2" y1="261.9" x2="674.0" y2="261.9" stroke="#2a303c" stroke-width="1.4"/>
<rect x="674.0" y="259.5" width="13.1" height="4.8" fill="#2a303c"/>
<line x1="687.1" y1="261.9" x2="707.6" y2="261.9" stroke="#2a303c" stroke-width="1.5"/>
<path d="M709.0,260.09999999999997 L707.6,261.9 L709.0,263.7 H712.2 V260.09999999999997 Z" stroke="#2a303c" stroke-width="1" fill="#fff" />
<path d="M710.6,259.9 V263.9" stroke="#2a303c" stroke-width="1" fill="none" />
<rect x="712.8" y="259.6" width="5.7" height="4.6" fill="#2a303c"/>
<path d="M718.5,260.79999999999995 H777.5 M718.5,263.0 H777.5" stroke="#2a303c" stroke-width="0.9" fill="none" />
<rect x="732.5" y="260.0" width="45.0" height="3.8" fill="#2a303c"/>
<rect x="738.5" y="261.5" width="1.6" height="0.9" fill="#fff"/>
<rect x="743.1" y="261.5" width="1.6" height="0.9" fill="#fff"/>
<rect x="747.7" y="261.5" width="1.6" height="0.9" fill="#fff"/>
<rect x="752.3" y="261.5" width="1.6" height="0.9" fill="#fff"/>
<rect x="756.9" y="261.5" width="1.6" height="0.9" fill="#fff"/>
<rect x="761.5" y="261.5" width="1.6" height="0.9" fill="#fff"/>
<rect x="777.5" y="259.6" width="5.4" height="4.6" fill="#2a303c"/>
<path d="M783.5,260.2 H789.9 L791.5,261.9 L789.9,263.59999999999997 H783.5 Z" stroke="#2a303c" stroke-width="1" fill="#fff" />
<path d="M785.9,260.2 V263.59999999999997 M788.1,260.2 V263.59999999999997" stroke="#2a303c" stroke-width="1.2" fill="none" />
<path d="M710.8,277.09999999999997 L708.4,278.9 L710.8,280.7" stroke="#2a303c" stroke-width="1" fill="none" />
<line x1="709.4" y1="278.9" x2="719.3" y2="278.9" stroke="#2a303c" stroke-width="1.4"/>
<path d="M720.6999999999999,277.09999999999997 L719.3,278.9 L720.6999999999999,280.7 H723.9 V277.09999999999997 Z" stroke="#2a303c" stroke-width="1" fill="#fff" />
<path d="M722.3,276.9 V280.9" stroke="#2a303c" stroke-width="1" fill="none" />
<rect x="724.5" y="276.6" width="6.1" height="4.6" fill="#2a303c"/>
<path d="M730.6,277.79999999999995 H775.2 M730.6,280.0 H775.2" stroke="#2a303c" stroke-width="0.9" fill="none" />
<line x1="744.5" y1="277.8" x2="744.5" y2="280.0" stroke="#2a303c" stroke-width="1.2"/>
<rect x="775.2" y="276.6" width="5.4" height="4.6" fill="#2a303c"/>
<path d="M781.2,277.2 H787.6 L789.2,278.9 L787.6,280.59999999999997 H781.2 Z" stroke="#2a303c" stroke-width="1" fill="#fff" />
<path d="M783.6,277.2 V280.59999999999997 M785.8000000000001,277.2 V280.59999999999997" stroke="#2a303c" stroke-width="1.2" fill="none" />
<circle cx="756.6" cy="296.4" r="5.6" stroke="#2a303c" stroke-width="1.1" fill="#fff"/>
<circle cx="755.6" cy="296.7" r="1.6" stroke="#2a303c" stroke-width="1" fill="none"/>
<path d="M755.4,290.29999999999995 L757,287.5 Q759,286.29999999999995 760.4,288.29999999999995 L763.4,294.9 L765.2,290.9 L766.2,287.29999999999995 Q768.6,286.09999999999997 769.8,288.29999999999995 L771,292.9 L776.6,294.29999999999995 Q779.2,297.5 778.4,301.9 L781.4,306.29999999999995 L778.6,309.5 L772,311.29999999999995 L758.8,310.09999999999997 L757,306.5 L759.4,301.29999999999995" stroke="#2a303c" stroke-width="1.2" fill="#fff" />
<path d="M758.6,301.7 Q764.6,298.29999999999995 770.6,300.5 L771.4,306.29999999999995 L759.4,306.7 Z" stroke="#2a303c" stroke-width="1.3" fill="none" />
<rect x="761.6" y="296.5" width="6.6" height="3.8" fill="#2a303c"/>
<rect x="759.4" y="307.5" width="8.6" height="2.6" fill="#2a303c"/>
<rect x="772.2" y="304.3" width="4.0" height="2.6" fill="#2a303c"/>
<rect x="769.2" y="308.1" width="3.6" height="2.4" fill="#2a303c"/>
<rect x="772.4" y="295.9" width="3.6" height="4.0" rx="0" stroke="#2a303c" stroke-width="1.1" fill="none" />
<circle cx="766.4" cy="292.7" r="1.2" stroke="#2a303c" stroke-width="1" fill="#2a303c"/>
<circle cx="760.0" cy="293.1" r="1" stroke="#2a303c" stroke-width="1" fill="#2a303c"/>
<circle cx="775.2" cy="308.1" r="1.9" stroke="#2a303c" stroke-width="1" fill="none"/>
<circle cx="779.0" cy="306.5" r="1.5" stroke="#2a303c" stroke-width="1" fill="none"/>
<path d="M757,303.5 Q754.6,304.9 756.4,307.29999999999995 M770.6,289.5 L768.2,296.5 M762.6,289.09999999999997 L761,296.5" stroke="#2a303c" stroke-width="1" fill="none" />
<circle cx="756.6" cy="324.7" r="5.6" stroke="#2a303c" stroke-width="1.1" fill="#fff"/>
<circle cx="755.6" cy="325.0" r="1.6" stroke="#2a303c" stroke-width="1" fill="none"/>
<path d="M755.4,318.59999999999997 L757,315.8 Q759,314.59999999999997 760.4,316.59999999999997 L763.4,323.2 L765.2,319.2 L766.2,315.59999999999997 Q768.6,314.4 769.8,316.59999999999997 L771,321.2 L776.6,322.59999999999997 Q779.2,325.8 778.4,330.2 L781.4,334.59999999999997 L778.6,337.8 L772,339.59999999999997 L758.8,338.4 L757,334.8 L759.4,329.59999999999997" stroke="#2a303c" stroke-width="1.2" fill="#fff" />
<path d="M758.6,330.0 Q764.6,326.59999999999997 770.6,328.8 L771.4,334.59999999999997 L759.4,335.0 Z" stroke="#2a303c" stroke-width="1.3" fill="none" />
<rect x="761.6" y="324.8" width="6.6" height="3.8" fill="#2a303c"/>
<rect x="759.4" y="335.8" width="8.6" height="2.6" fill="#2a303c"/>
<rect x="772.2" y="332.6" width="4.0" height="2.6" fill="#2a303c"/>
<rect x="769.2" y="336.4" width="3.6" height="2.4" fill="#2a303c"/>
<rect x="772.4" y="324.2" width="3.6" height="4.0" rx="0" stroke="#2a303c" stroke-width="1.1" fill="none" />
<circle cx="766.4" cy="321.0" r="1.2" stroke="#2a303c" stroke-width="1" fill="#2a303c"/>
<circle cx="760.0" cy="321.4" r="1" stroke="#2a303c" stroke-width="1" fill="#2a303c"/>
<circle cx="775.2" cy="336.4" r="1.9" stroke="#2a303c" stroke-width="1" fill="none"/>
<circle cx="779.0" cy="334.8" r="1.5" stroke="#2a303c" stroke-width="1" fill="none"/>
<path d="M757,331.8 Q754.6,333.2 756.4,335.59999999999997 M770.6,317.8 L768.2,324.8 M762.6,317.4 L761,324.8" stroke="#2a303c" stroke-width="1" fill="none" />
<ellipse cx="767.2" cy="350.6" rx="3.9" ry="2.3" transform="rotate(0 767.2 350.6)" stroke="#2a303c" stroke-width="1.3" fill="none"/>
<ellipse cx="766.4" cy="350.9" rx="1.6" ry="1.1" transform="rotate(0 766.4 350.9)" stroke="#2a303c" stroke-width="1" fill="#2a303c"/>
<ellipse cx="767.2" cy="357.8" rx="4" ry="2.4" transform="rotate(-22 767.2 357.8)" stroke="#2a303c" stroke-width="1.3" fill="none"/>
<rect x="760.6" y="368.5" width="2.6" height="4.8" rx="0" stroke="#2a303c" stroke-width="1.1" fill="none" />
<rect x="763.2" y="369.1" width="6.3" height="3.6" rx="0" stroke="#2a303c" stroke-width="1" fill="none" />
<line x1="766.5" y1="369.1" x2="766.5" y2="372.7" stroke="#2a303c" stroke-width="0.9"/>
<rect x="760.6" y="375.3" width="2.6" height="4.8" rx="0" stroke="#2a303c" stroke-width="1.1" fill="none" />
<rect x="763.2" y="375.9" width="6.3" height="3.6" rx="0" stroke="#2a303c" stroke-width="1" fill="none" />
<line x1="766.5" y1="375.9" x2="766.5" y2="379.5" stroke="#2a303c" stroke-width="0.9"/>
<rect x="760.6" y="387.3" width="2.6" height="4.8" rx="0" stroke="#2a303c" stroke-width="1.1" fill="none" />
<rect x="763.2" y="387.9" width="6.3" height="3.6" rx="0" stroke="#2a303c" stroke-width="1" fill="none" />
<line x1="766.5" y1="387.9" x2="766.5" y2="391.5" stroke="#2a303c" stroke-width="0.9"/>
<rect x="760.6" y="395.7" width="2.6" height="4.8" rx="0" stroke="#2a303c" stroke-width="1.1" fill="none" />
<rect x="763.2" y="396.3" width="6.3" height="3.6" rx="0" stroke="#2a303c" stroke-width="1" fill="none" />
<line x1="766.5" y1="396.3" x2="766.5" y2="399.9" stroke="#2a303c" stroke-width="0.9"/>
<path d="M428.0,152.9 L431.8,149.6 L445.3,148.8 L449.1,152.1 L457.4,172.2 L474.7,182.0 L478.9,188.4 L481.9,190.2 L484.6,188.7 L491.3,190.2 L493.5,193.0 L494.0,179.7 L508.6,162.4 L511.6,149.6 L510.5,139.0 L513.9,136.0 L528.9,133.8 L532.7,136.8 L533.1,142.3 L541.7,205.0 L542.5,220.4 L529.2,224.6 L525.6,208.3 L521.4,206.1 L515.4,204.5 L506.3,211.3 L497.3,220.4 L495.8,225.0 L482.2,225.0 L477.7,220.4 L470.2,212.1 L460.4,214.3 L461.1,225.0 L451.8,229.4 L444.6,225.0 Z" stroke="#2a303c" stroke-width="1.5" fill="#fff" stroke-linejoin="round"/>
<path d="M430.3,155.6 L443.8,154.1 L446.1,166.9 L433.3,171.4 Z" stroke="#2a303c" stroke-width="1.6" fill="none" stroke-linejoin="round"/>
<path d="M428.0,152.9 L430.3,155.6" stroke="#2a303c" stroke-width="1" fill="none" stroke-linejoin="round"/>
<path d="M445.3,148.8 L443.8,154.1" stroke="#2a303c" stroke-width="1.6" fill="none" stroke-linejoin="round"/>
<path d="M449.1,152.1 L446.1,166.9" stroke="#2a303c" stroke-width="1.2" fill="none" stroke-linejoin="round"/>
<path d="M433.3,168.4 L445.3,164.9" stroke="#2a303c" stroke-width="1" fill="none" stroke-linejoin="round"/>
<circle cx="434.3" cy="164.9" r="0.9" stroke="#2a303c" stroke-width="0.8" fill="none"/>
<circle cx="442.8" cy="164.3" r="0.9" stroke="#2a303c" stroke-width="0.8" fill="none"/>
<path d="M447.6,157.1 L455.9,174.4 L473.2,184.2 L477.0,190.2 L481.0,220.4" stroke="#2a303c" stroke-width="1.1" fill="none" stroke-linejoin="round"/>
<path d="M478.9,188.4 L483.0,218.9" stroke="#2a303c" stroke-width="1.4" fill="none" stroke-linejoin="round"/>
<path d="M453.6,183.5 L470.2,193.3 L475.5,214.3 L460.4,208.3 Z" stroke="#2a303c" stroke-width="1.6" fill="none" stroke-linejoin="round"/>
<path d="M456.3,187.2 L468.7,195.1 L472.9,211.3 L461.9,206.1 Z" stroke="#2a303c" stroke-width="1" fill="none" stroke-linejoin="round"/>
<path d="M458.9,190.2 L461.9,206.1" stroke="#2a303c" stroke-width="1" fill="none" stroke-linejoin="round"/>
<path d="M481.9,190.2 C482.5,195.3 484.2,214.3 485.2,220.4 C486.3,226.4 487.0,225.4 488.3,226.4 C489.5,227.4 491.5,227.4 492.8,226.4 C494.0,225.4 495.7,225.9 495.8,220.4 C495.9,214.8 493.9,197.5 493.5,193.0" stroke="#2a303c" stroke-width="1.3" fill="none" stroke-linejoin="round" stroke-linecap="round"/>
<path d="M484.0,192.5 C484.5,196.9 486.0,213.7 487.0,218.9 C488.1,224.0 489.1,223.2 490.1,223.4 C491.1,223.5 492.8,224.8 493.1,219.8 C493.3,214.7 491.8,197.4 491.6,193.0" stroke="#2a303c" stroke-width="1" fill="none" stroke-linejoin="round" stroke-linecap="round"/>
<rect x="482.5" y="188.4" width="3.4" height="2.6" fill="#2a303c"/>
<path d="M513.1,142.8 L513.9,150.3 L510.8,164.6 L497.3,180.5 L496.1,190.2 L497.3,218.9" stroke="#2a303c" stroke-width="1.1" fill="none" stroke-linejoin="round"/>
<path d="M494.0,179.7 L495.5,220.4" stroke="#2a303c" stroke-width="1.6" fill="none" stroke-linejoin="round"/>
<path d="M515.4,142.8 L529.7,140.5 L531.9,154.1 L518.4,157.1 Z" stroke="#2a303c" stroke-width="1.6" fill="none" stroke-linejoin="round"/>
<path d="M510.5,139.0 L515.4,142.8" stroke="#2a303c" stroke-width="1.4" fill="none" stroke-linejoin="round"/>
<path d="M528.9,133.8 L529.7,140.5" stroke="#2a303c" stroke-width="1.4" fill="none" stroke-linejoin="round"/>
<path d="M513.9,136.0 L515.4,142.8" stroke="#2a303c" stroke-width="1" fill="none" stroke-linejoin="round"/>
<circle cx="519.6" cy="151.8" r="0.9" stroke="#2a303c" stroke-width="0.8" fill="none"/>
<circle cx="528.0" cy="149.6" r="0.9" stroke="#2a303c" stroke-width="0.8" fill="none"/>
<path d="M531.0,155.6 L538.3,204.1" stroke="#2a303c" stroke-width="1.1" fill="none" stroke-linejoin="round"/>
<path d="M537.2,173.7 L538.3,175.2 L538.0,177.9" stroke="#2a303c" stroke-width="1" fill="none" stroke-linejoin="round"/>
<path d="M501.1,189.5 L515.4,173.7 L517.6,196.3 L504.1,208.3 Z" stroke="#2a303c" stroke-width="1.7" fill="none" stroke-linejoin="round"/>
<path d="M503.6,190.2 L513.6,178.9 L515.4,195.1 L505.6,204.1 Z" stroke="#2a303c" stroke-width="1" fill="none" stroke-linejoin="round"/>
<path d="M505.6,193.3 L508.6,200.0 L515.4,191.7" stroke="#2a303c" stroke-width="1" fill="none" stroke-linejoin="round"/>
<path d="M525.2,208.3 L538.0,204.5 L541.0,220.4 L528.9,224.1 Z" stroke="#2a303c" stroke-width="1.5" fill="none" stroke-linejoin="round"/>
<path d="M527.4,210.6 L537.2,207.6 L539.5,218.9 L530.4,221.9 Z" stroke="#2a303c" stroke-width="1" fill="none" stroke-linejoin="round"/>
<path d="M528.9,212.1 L534.9,220.4" stroke="#2a303c" stroke-width="1.2" fill="none" stroke-linejoin="round"/>
<circle cx="529.7" cy="212.5" r="0.9" stroke="#2a303c" stroke-width="0.8" fill="none"/>
<circle cx="535.7" cy="212.1" r="0.9" stroke="#2a303c" stroke-width="0.8" fill="none"/>
<path d="M444.3,220.1 L454.3,218.3 L456.4,221.3 L462.9,232.4 L460.9,235.1 L450.1,238.1 L447.0,236.9 Z" stroke="#2a303c" stroke-width="1.5" fill="#fff" stroke-linejoin="round"/>
<path d="M446.3,222.3 L454.6,220.8 L456.8,233.6 L449.3,235.9 Z" stroke="#2a303c" stroke-width="1.1" fill="none" stroke-linejoin="round"/>
<circle cx="448.9" cy="224.6" r="0.9" stroke="#2a303c" stroke-width="0.8" fill="none"/>
<circle cx="452.8" cy="223.8" r="0.9" stroke="#2a303c" stroke-width="0.8" fill="none"/>
<path d="M459.1,214.0 L462.9,232.4" stroke="#2a303c" stroke-width="1.2" fill="none" stroke-linejoin="round"/>
<path d="M473.4,218.6 C473.3,220.8 472.0,226.8 472.7,232.1 C473.3,237.4 475.2,243.4 477.2,250.2 C479.2,257.0 480.9,266.0 484.7,272.8 C488.5,279.5 495.4,286.6 499.8,290.8 C504.2,295.1 509.2,297.1 511.1,298.4" stroke="#2a303c" stroke-width="1.1" fill="none" stroke-linejoin="round" stroke-linecap="round"/>
<path d="M476.9,220.1 C476.8,222.6 475.8,229.3 476.6,235.1 C477.4,240.9 479.6,248.2 481.7,254.7 C483.8,261.2 485.7,268.5 489.2,274.3 C492.7,280.1 498.7,285.9 502.8,289.3 C506.8,292.8 511.8,294.1 513.6,295.1" stroke="#2a303c" stroke-width="1.1" fill="none" stroke-linejoin="round" stroke-linecap="round"/>
<path d="M511.1,298.4 L513.6,295.1" stroke="#2a303c" stroke-width="1.1" fill="none" stroke-linejoin="round"/>
<path d="M486.2,247.2 L502.8,250.2 L519.3,248.7 L522.3,274.3 L517.1,280.3 L514.8,290.8 L501.3,288.6 L495.2,271.3 L487.7,269.8 Z" stroke="#2a303c" stroke-width="1.4" fill="#fff" stroke-linejoin="round"/>
<path d="M505.0,211.8 L513.3,208.8 L522.7,239.3 L517.1,242.7 L510.3,239.9 Z" stroke="#2a303c" stroke-width="1.6" fill="#fff" stroke-linejoin="round"/>
<path d="M507.6,214.0 L510.0,213.1 L517.5,238.9 L514.8,239.9 Z" stroke="#2a303c" stroke-width="3" fill="#2a303c" stroke-linejoin="round"/>
<path d="M513.3,214.0 L520.2,237.4" stroke="#2a303c" stroke-width="1" fill="none" stroke-linejoin="round"/>
<circle cx="517.1" cy="235.1" r="1" stroke="#2a303c" stroke-width="0.8" fill="none"/>
<path d="M487.7,232.9 L501.3,231.8 L502.8,247.5 L489.5,248.7 Z" stroke="#2a303c" stroke-width="2.2" fill="#2a303c" stroke-linejoin="round"/>
<path d="M493.4,235.9 L498.3,235.4 L498.9,245.4 L494.0,246.0 Z" stroke="#2a303c" stroke-width="1.4" fill="#fff" stroke-linejoin="round"/>
<path d="M490.7,221.6 L493.0,232.1" stroke="#2a303c" stroke-width="1.2" fill="none" stroke-linejoin="round"/>
<path d="M498.3,221.6 L499.8,231.8" stroke="#2a303c" stroke-width="1.2" fill="none" stroke-linejoin="round"/>
<path d="M491.5,248.7 L501.3,247.9 L503.5,262.2 L494.5,264.5 Z" stroke="#2a303c" stroke-width="1.5" fill="#2a303c" stroke-linejoin="round"/>
<path d="M494.5,264.5 L503.5,262.2 L505.8,275.8 L498.3,277.3 Z" stroke="#2a303c" stroke-width="1.4" fill="#fff" stroke-linejoin="round"/>
<path d="M499.8,277.3 L505.8,275.8 L507.3,287.1 L502.0,288.1 Z" stroke="#2a303c" stroke-width="1.4" fill="#fff" stroke-linejoin="round"/>
<rect x="500.1" y="285.6" width="5.4" height="2.6" fill="#2a303c"/>
<path d="M503.5,250.2 L517.8,249.0 L520.1,262.2 L505.8,264.0 Z" stroke="#2a303c" stroke-width="1.1" fill="none" stroke-linejoin="round"/>
<path d="M505.8,264.0 L520.1,262.2 L522.0,273.5 L507.3,275.8 Z" stroke="#2a303c" stroke-width="1.1" fill="none" stroke-linejoin="round"/>
<circle cx="504.6" cy="265.2" r="1.1" stroke="#2a303c" stroke-width="0.9" fill="none"/>
<circle cx="513.3" cy="263.7" r="1.4" stroke="#2a303c" stroke-width="1.2" fill="none"/>
<path d="M508.0,275.8 L517.1,275.8 L513.3,280.3 Z" stroke="#2a303c" stroke-width="1.3" fill="none" stroke-linejoin="round"/>
<path d="M510.3,286.3 L515.6,283.3 L516.0,289.3 L511.1,290.8 Z" stroke="#2a303c" stroke-width="1.4" fill="none" stroke-linejoin="round"/>
<rect x="512.6" y="277.0" width="5.0" height="2.4" fill="#2a303c"/>
<path d="M475.4,245.4 L485.0,244.5 L485.9,257.0 L477.5,258.0 Z" stroke="#2a303c" stroke-width="2" fill="#fff" stroke-linejoin="round"/>
<path d="M477.9,247.9 L483.2,247.5 L483.8,255.5 L479.0,255.9 Z" stroke="#2a303c" stroke-width="1.2" fill="none" stroke-linejoin="round"/>
<path d="M480.2,258.0 L481.7,268.3" stroke="#2a303c" stroke-width="1.4" fill="none" stroke-linejoin="round"/>
<path d="M483.5,257.7 L485.0,266.7" stroke="#2a303c" stroke-width="1.2" fill="none" stroke-linejoin="round"/>
<circle cx="480.2" cy="225.3" r="1" stroke="#2a303c" stroke-width="0.8" fill="none"/>
<circle cx="482.9" cy="236.9" r="1" stroke="#2a303c" stroke-width="0.8" fill="none"/>
<path d="M486.2,247.2 L480.2,223.1" stroke="#2a303c" stroke-width="1" fill="none" stroke-linejoin="round"/>
<path d="M488.0,270.1 L486.2,254.7" stroke="#2a303c" stroke-width="1" fill="none" stroke-linejoin="round"/>
<path d="M1056.0,217.9 L1060.4,202.2 L1063.9,198.7 L1070.0,197.8 L1073.1,201.3 L1071.7,210.9 L1069.6,216.2 L1085.7,214.4 L1090.0,218.8 L1097.0,217.9 L1101.3,214.4 L1106.6,213.5 L1110.9,214.4 L1113.5,217.0 L1110.1,220.5 L1106.6,221.4 L1105.7,230.1 L1099.6,242.3 L1092.6,251.0 L1089.1,258.9 L1083.9,261.5 L1068.2,284.1 L1061.2,287.6 L1032.5,296.3 L1028.1,292.9 L1017.7,289.4 L1002.0,273.7 L1019.4,235.3 L1022.9,231.0 Z" stroke="#2a303c" stroke-width="1.68" fill="#fff" stroke-linejoin="round"/>
<path d="M1058.6,217.9 L1062.6,203.6 L1065.1,200.8 L1069.6,200.5 L1071.0,203.1 L1069.6,211.8" stroke="#2a303c" stroke-width="1.12" fill="none" stroke-linejoin="round"/>
<path d="M1064.4,207.4 L1065.1,201.3" stroke="#2a303c" stroke-width="2.46" fill="none" stroke-linejoin="round"/>
<path d="M1070.3,200.5 L1071.7,210.6" stroke="#2a303c" stroke-width="2.69" fill="none" stroke-linejoin="round"/>
<path d="M1063.9,207.4 L1068.2,206.7 L1069.1,216.2" stroke="#2a303c" stroke-width="1.12" fill="none" stroke-linejoin="round"/>
<path d="M1022.9,231.0 L1035.1,237.9 L1064.7,221.4 L1069.6,216.2" stroke="#2a303c" stroke-width="1.34" fill="none" stroke-linejoin="round"/>
<path d="M1021.2,233.6 L1034.2,240.9 L1052.5,239.7" stroke="#2a303c" stroke-width="1.23" fill="none" stroke-linejoin="round"/>
<path d="M1032.5,234.5 L1040.9,227.0" stroke="#2a303c" stroke-width="2.46" fill="none" stroke-linejoin="round"/>
<path d="M1037.4,232.7 L1045.7,225.4" stroke="#2a303c" stroke-width="2.46" fill="none" stroke-linejoin="round"/>
<path d="M1042.2,231.0 L1050.6,223.8" stroke="#2a303c" stroke-width="2.46" fill="none" stroke-linejoin="round"/>
<path d="M1047.1,229.2 L1055.5,222.3" stroke="#2a303c" stroke-width="2.46" fill="none" stroke-linejoin="round"/>
<path d="M1052.0,227.5 L1060.4,220.7" stroke="#2a303c" stroke-width="2.46" fill="none" stroke-linejoin="round"/>
<path d="M1056.9,225.7 L1065.3,219.1" stroke="#2a303c" stroke-width="2.46" fill="none" stroke-linejoin="round"/>
<path d="M1024.6,231.5 L1055.1,220.0" stroke="#2a303c" stroke-width="2.02" fill="none" stroke-linejoin="round"/>
<path d="M1035.1,237.9 L1052.5,236.2 L1064.7,221.4" stroke="#2a303c" stroke-width="1.79" fill="none" stroke-linejoin="round"/>
<rect x="1050.4" y="235.0" width="3.4" height="4.0" fill="#2a303c"/>
<path d="M1069.1,217.9 C1071.6,218.0 1080.4,216.9 1083.9,218.8 C1087.4,220.7 1088.9,226.5 1090.0,229.2 C1091.2,232.0 1092.8,231.7 1090.9,235.3 C1089.0,239.0 1080.7,248.4 1078.7,251.0" stroke="#2a303c" stroke-width="1.34" fill="none" stroke-linejoin="round" stroke-linecap="round"/>
<path d="M1078.7,251.0 L1075.2,245.4 L1071.7,242.3 L1059.5,237.1 L1054.3,234.5" stroke="#2a303c" stroke-width="1.34" fill="none" stroke-linejoin="round"/>
<path d="M1054.3,234.5 L1056.0,242.3 L1054.3,247.5 L1059.5,259.7" stroke="#2a303c" stroke-width="1.57" fill="none" stroke-linejoin="round"/>
<path d="M1059.5,259.7 C1061.2,259.8 1066.2,260.6 1070.0,260.1 C1073.7,259.6 1078.7,258.1 1082.2,256.6 C1085.6,255.1 1089.1,251.9 1090.5,251.0" stroke="#2a303c" stroke-width="1.79" fill="none" stroke-linejoin="round" stroke-linecap="round"/>
<path d="M1059.9,257.1 C1061.5,257.2 1066.4,258.1 1070.0,257.6 C1073.5,257.1 1078.1,255.6 1081.3,254.2 C1084.5,252.7 1087.8,249.8 1089.1,248.9" stroke="#2a303c" stroke-width="1.12" fill="none" stroke-linejoin="round" stroke-linecap="round"/>
<rect x="1058.1" y="258.9" width="3.4" height="3.4" fill="#2a303c"/>
<rect x="1090.5" y="249.3" width="3.4" height="3.6" fill="#2a303c"/>
<path d="M1085.7,214.4 L1087.4,220.5 L1092.6,222.3 L1093.5,231.8 L1090.0,235.7" stroke="#2a303c" stroke-width="1.34" fill="none" stroke-linejoin="round"/>
<path d="M1092.6,222.3 L1101.3,219.6 L1106.6,221.4" stroke="#2a303c" stroke-width="1.23" fill="none" stroke-linejoin="round"/>
<path d="M1101.3,224.9 L1105.2,224.2 L1104.8,229.7 L1101.0,230.4 Z" stroke="#2a303c" stroke-width="1.34" fill="none" stroke-linejoin="round"/>
<path d="M1093.5,231.8 L1099.6,242.3" stroke="#2a303c" stroke-width="1.23" fill="none" stroke-linejoin="round"/>
<path d="M1097.0,233.6 L1092.6,247.5" stroke="#2a303c" stroke-width="1.12" fill="none" stroke-linejoin="round"/>
<path d="M1108.3,214.4 L1112.2,216.2 L1110.4,219.3" stroke="#2a303c" stroke-width="2.46" fill="none" stroke-linejoin="round"/>
<path d="M1005.5,273.3 L1021.2,240.9" stroke="#2a303c" stroke-width="1.12" fill="none" stroke-linejoin="round"/>
<path d="M1015.6,250.1 L1022.9,254.9 L1029.0,254.9" stroke="#2a303c" stroke-width="1.12" fill="none" stroke-linejoin="round"/>
<path d="M1028.1,253.6 L1036.8,251.0 L1038.6,258.9 L1032.0,260.6 L1032.7,266.7 L1025.0,267.1 L1025.5,270.5 L1032.5,270.2 L1033.0,273.7 L1023.8,277.2" stroke="#2a303c" stroke-width="1.46" fill="none" stroke-linejoin="round"/>
<path d="M1036.8,251.0 L1036.0,247.5 L1032.5,249.3 L1028.1,253.6" stroke="#2a303c" stroke-width="1.12" fill="none" stroke-linejoin="round"/>
<rect x="1023.9" y="265.3" width="3.0" height="3.4" fill="#2a303c"/>
<rect x="1022.9" y="274.7" width="4.0" height="3.6" fill="#2a303c"/>
<path d="M1017.7,289.4 L1023.8,277.2 L1056.0,247.5" stroke="#2a303c" stroke-width="1.12" fill="none" stroke-linejoin="round"/>
<path d="M1022.9,291.1 L1059.5,250.1" stroke="#2a303c" stroke-width="1.12" fill="none" stroke-linejoin="round"/>
<path d="M1032.5,296.3 L1039.5,285.0 L1068.2,259.7" stroke="#2a303c" stroke-width="1.12" fill="none" stroke-linejoin="round"/>
<path d="M1038.6,287.6 L1047.3,263.2 L1052.5,242.3" stroke="#2a303c" stroke-width="1.12" fill="none" stroke-linejoin="round"/>
<path d="M1042.1,280.7 L1052.5,263.2" stroke="#2a303c" stroke-width="1.12" fill="none" stroke-linejoin="round"/>
<path d="M1047.3,284.1 L1064.7,265.0 L1082.2,259.7" stroke="#2a303c" stroke-width="1.12" fill="none" stroke-linejoin="round"/>
<path d="M1052.5,287.6 L1070.0,266.7 L1085.7,261.5" stroke="#2a303c" stroke-width="1.12" fill="none" stroke-linejoin="round"/>
<path d="M1019.4,280.7 L1029.9,287.6 L1037.7,294.6" stroke="#2a303c" stroke-width="1.79" fill="none" stroke-linejoin="round"/>
<path d="M1024.6,279.8 L1036.0,280.7 L1042.1,277.2" stroke="#2a303c" stroke-width="1.79" fill="none" stroke-linejoin="round"/>
<path d="M1050.8,275.4 L1061.2,273.7 L1064.7,277.2" stroke="#2a303c" stroke-width="1.79" fill="none" stroke-linejoin="round"/>
<rect x="1034.7" y="285.0" width="3.4" height="3.4" fill="#2a303c"/>
<rect x="1054.3" y="273.3" width="6.0" height="3.0" fill="#2a303c"/>
<circle cx="1085.7" cy="260.4" r="1.2" stroke="#2a303c" stroke-width="1.01" fill="none"/>
<path d="M1027.6,317.7 L1063.3,337.5 L1054.4,387.0 L1016.7,364.3 Z" stroke="#2a303c" stroke-width="1.2" fill="#fff" stroke-linejoin="round"/>
<path d="M1063.3,337.5 L1088.0,335.1 L1077.1,383.1 L1054.4,387.0 Z" stroke="#2a303c" stroke-width="1.2" fill="#fff" stroke-linejoin="round"/>
<path d="M1066.0,337.3 L1056.9,386.6" stroke="#2a303c" stroke-width="1.5" fill="none" stroke-linejoin="round"/>
<path d="M1068.8,337.0 L1059.4,386.1" stroke="#2a303c" stroke-width="1" fill="none" stroke-linejoin="round"/>
<path d="M1071.5,336.7 L1061.9,385.7" stroke="#2a303c" stroke-width="1.5" fill="none" stroke-linejoin="round"/>
<path d="M1074.3,336.5 L1064.5,385.3" stroke="#2a303c" stroke-width="1" fill="none" stroke-linejoin="round"/>
<path d="M1077.0,336.2 L1067.0,384.8" stroke="#2a303c" stroke-width="1.5" fill="none" stroke-linejoin="round"/>
<path d="M1079.8,335.9 L1069.5,384.4" stroke="#2a303c" stroke-width="1" fill="none" stroke-linejoin="round"/>
<path d="M1082.5,335.7 L1072.1,383.9" stroke="#2a303c" stroke-width="1.5" fill="none" stroke-linejoin="round"/>
<path d="M1085.3,335.4 L1074.6,383.5" stroke="#2a303c" stroke-width="1" fill="none" stroke-linejoin="round"/>
<path d="M1061.5,354.0 L1083.6,351.1" stroke="#2a303c" stroke-width="0.6" fill="none" stroke-linejoin="round"/>
<path d="M1058.5,370.5 L1080.0,367.1" stroke="#2a303c" stroke-width="0.6" fill="none" stroke-linejoin="round"/>
<path d="M1027.6,317.7 L1030.6,310.8 L1035.5,305.4 L1052.4,304.3 L1089.0,326.6 L1088.0,335.1 L1063.3,337.5 Z" stroke="#2a303c" stroke-width="1.3" fill="#fff" stroke-linejoin="round"/>
<path d="M1030.6,313.8 L1064.3,332.6 L1088.0,330.6" stroke="#2a303c" stroke-width="1.6" fill="none" stroke-linejoin="round"/>
<path d="M1028.6,316.1 L1063.7,335.1 L1088.2,332.8" stroke="#2a303c" stroke-width="1" fill="none" stroke-linejoin="round"/>
<path d="M1036.5,307.8 L1049.4,306.6 L1083.1,326.6" stroke="#2a303c" stroke-width="1.8" fill="none" stroke-linejoin="round"/>
<path d="M1041.9,310.8 L1073.2,328.6" stroke="#2a303c" stroke-width="2.4" fill="none" stroke-linejoin="round"/>
<path d="M1039.5,313.4 L1069.2,330.6" stroke="#2a303c" stroke-width="1" fill="none" stroke-linejoin="round"/>
<path d="M1047.4,306.6 L1080.1,326.0 L1079.1,329.6" stroke="#2a303c" stroke-width="1" fill="none" stroke-linejoin="round"/>
<path d="M1030.6,310.8 L1036.5,308.2 L1041.9,311.4 L1040.5,317.7 L1034.6,319.7 Z" stroke="#2a303c" stroke-width="1.4" fill="#fff" stroke-linejoin="round"/>
<path d="M1034.6,305.4 L1039.1,304.3 L1039.5,308.2 L1035.1,309.0 Z" stroke="#2a303c" stroke-width="1.2" fill="#fff" stroke-linejoin="round"/>
<path d="M1058.3,326.6 L1066.2,324.1 L1071.6,327.6 L1070.8,334.6 L1063.3,335.9 Z" stroke="#2a303c" stroke-width="1.4" fill="#fff" stroke-linejoin="round"/>
<path d="M1059.3,328.0 L1064.9,326.6 L1065.2,331.6 L1060.3,332.4 Z" stroke="#2a303c" stroke-width="1.8" fill="none" stroke-linejoin="round"/>
<rect x="1031.2" y="314.2" width="4.5" height="3.0" fill="#2a303c"/>
<rect x="1038.7" y="314.8" width="4.0" height="4.0" fill="#2a303c"/>
<path d="M1042.5,319.7 L1055.3,327.2" stroke="#2a303c" stroke-width="2" fill="none" stroke-linejoin="round"/>
<path d="M1031.2,323.3 L1032.4,325.2" stroke="#2a303c" stroke-width="1" fill="none" stroke-linejoin="round"/>
<path d="M1060.3,339.5 L1060.9,342.3" stroke="#2a303c" stroke-width="1" fill="none" stroke-linejoin="round"/>
<path d="M283.7,374.1 C284.9,375.8 289.0,380.9 290.7,384.6 C292.4,388.2 293.1,391.2 293.8,396.0 C294.4,400.7 294.8,408.3 294.5,413.1 C294.3,417.8 294.0,421.5 292.2,424.5 C290.4,427.5 285.1,430.0 283.7,431.1" stroke="#2a303c" stroke-width="1.8" fill="none" stroke-linecap="round"/>
<path d="M309.4,367.5 C310.8,368.6 315.9,371.9 317.9,374.1 C319.9,376.3 320.7,377.7 321.1,380.8 C321.6,383.8 320.5,390.6 320.4,392.5" stroke="#2a303c" stroke-width="1.4" fill="none" stroke-linecap="round"/>
<path d="M317.0,365.0 C318.1,364.0 322.3,360.4 323.6,358.9 C324.9,357.3 325.2,357.0 324.9,355.7 C324.7,354.3 322.7,351.5 322.3,350.7" stroke="#2a303c" stroke-width="1" fill="none" stroke-linecap="round"/>
<path d="M318.9,365.6 C320.0,364.5 324.2,361.1 325.5,359.5 C326.8,357.8 326.8,357.0 326.5,355.7 C326.1,354.3 324.1,352.0 323.6,351.3" stroke="#2a303c" stroke-width="1" fill="none" stroke-linecap="round"/>
<circle cx="321.7" cy="350.0" r="2" stroke="#2a303c" stroke-width="1" fill="#2a303c"/>
<rect x="318.5" y="392.2" width="3.2" height="2.6" fill="#2a303c"/>
<path d="M263.5,400.2 C263.4,400.7 263.1,401.9 263.2,403.2 C263.3,404.6 264.0,407.3 264.2,408.1" stroke="#2a303c" stroke-width="1" fill="none" stroke-linecap="round"/>
<path d="M266.0,399.4 C266.0,400.1 265.8,401.8 266.0,403.2 C266.2,404.7 266.8,407.3 267.0,408.1" stroke="#2a303c" stroke-width="1" fill="none" stroke-linecap="round"/>
<path d="M259.9,408.1 C259.9,406.8 260.1,406.4 260.9,405.8 C261.7,405.2 263.5,404.8 264.7,404.5 C266.0,404.2 267.4,403.6 268.5,404.0 C269.7,404.4 271.0,405.5 271.7,406.8 C272.4,408.1 272.8,410.0 273.0,411.9 C273.2,413.8 272.9,416.2 272.8,418.2 C272.8,420.2 273.2,422.9 272.6,423.9 C272.0,425.0 270.3,424.7 269.2,424.6 C268.1,424.5 267.2,423.1 266.0,423.3 C264.8,423.5 263.1,425.8 262.2,425.8 C261.3,425.8 260.9,424.6 260.7,423.3 C260.4,422.0 260.8,419.9 260.9,418.2 C261.0,416.5 261.3,414.8 261.2,413.1 C261.0,411.5 259.9,409.3 259.9,408.1 Z" stroke="#2a303c" stroke-width="1" fill="#fff" />
<path d="M259.9,408.1 C260.5,408.3 262.0,409.3 263.5,409.3 C264.9,409.3 267.2,408.5 268.5,408.1 C269.8,407.6 270.9,406.8 271.3,406.5" stroke="#2a303c" stroke-width="1" fill="none" />
<path d="M97.1,415.0 C103.6,416.4 124.5,421.2 136.0,423.3 C147.6,425.5 158.5,427.1 166.5,428.1 C174.4,429.0 177.9,429.5 183.6,429.0 C189.3,428.6 195.9,426.8 200.7,425.2 C205.4,423.7 208.9,421.5 212.1,419.5 C215.3,417.6 217.2,414.8 219.7,413.7 C222.2,412.5 226.0,412.7 227.3,412.5" stroke="#2a303c" stroke-width="4" fill="none" stroke-linecap="butt"/>
<path d="M97.1,415.0 C103.6,416.4 124.5,421.2 136.0,423.3 C147.6,425.5 158.5,427.1 166.5,428.1 C174.4,429.0 177.9,429.5 183.6,429.0 C189.3,428.6 195.9,426.8 200.7,425.2 C205.4,423.7 208.9,421.5 212.1,419.5 C215.3,417.6 217.2,414.8 219.7,413.7 C222.2,412.5 226.0,412.7 227.3,412.5" stroke="#fff" stroke-width="2" fill="none" stroke-linecap="butt"/>
<path d="M227.3,412.3 C225.7,412.1 221.3,411.8 217.8,410.8 C214.3,409.8 209.8,407.9 206.4,406.4 C203.0,405.0 198.8,402.9 197.3,402.2" stroke="#2a303c" stroke-width="4" fill="none" stroke-linecap="butt"/>
<path d="M227.3,412.3 C225.7,412.1 221.3,411.8 217.8,410.8 C214.3,409.8 209.8,407.9 206.4,406.4 C203.0,405.0 198.8,402.9 197.3,402.2" stroke="#fff" stroke-width="2" fill="none" stroke-linecap="butt"/>
<path d="M184.5,389.3 L176.0,381.0" stroke="#2a303c" stroke-width="4" fill="none" stroke-linecap="butt"/>
<path d="M184.5,389.3 L176.0,381.0" stroke="#fff" stroke-width="2" fill="none" stroke-linecap="butt"/>
<path d="M225.8,412.9 C228.6,412.3 236.9,410.9 242.5,409.1 C248.1,407.2 253.9,406.8 259.6,401.9 C265.4,396.9 272.9,385.0 277.0,379.4 C281.2,373.9 281.5,370.8 284.6,368.4 C287.8,366.0 291.0,365.6 296.0,365.2 C301.1,364.8 308.7,365.5 315.1,366.1 C321.4,366.8 329.3,369.0 334.1,369.0 C338.8,369.0 340.7,367.9 343.6,366.1 C346.4,364.4 349.5,361.0 351.2,358.5 C352.8,356.0 353.1,352.5 353.5,351.3" stroke="#2a303c" stroke-width="4" fill="none" stroke-linecap="butt"/>
<path d="M225.8,412.9 C228.6,412.3 236.9,410.9 242.5,409.1 C248.1,407.2 253.9,406.8 259.6,401.9 C265.4,396.9 272.9,385.0 277.0,379.4 C281.2,373.9 281.5,370.8 284.6,368.4 C287.8,366.0 291.0,365.6 296.0,365.2 C301.1,364.8 308.7,365.5 315.1,366.1 C321.4,366.8 329.3,369.0 334.1,369.0 C338.8,369.0 340.7,367.9 343.6,366.1 C346.4,364.4 349.5,361.0 351.2,358.5 C352.8,356.0 353.1,352.5 353.5,351.3" stroke="#fff" stroke-width="2" fill="none" stroke-linecap="butt"/>
<path d="M364.9,337.0 C367.0,335.5 374.6,330.8 377.8,328.1 C381.0,325.4 382.9,322.2 383.9,321.1" stroke="#2a303c" stroke-width="4.4" fill="none" stroke-linecap="butt"/>
<path d="M364.9,337.0 C367.0,335.5 374.6,330.8 377.8,328.1 C381.0,325.4 382.9,322.2 383.9,321.1" stroke="#fff" stroke-width="2.4" fill="none" stroke-linecap="butt"/>
<path d="M207.3,398.8 C205.9,397.8 201.8,394.9 198.8,392.7 C195.8,390.6 191.7,386.5 189.3,386.1 C186.9,385.7 186.4,389.2 184.5,390.5 C182.7,391.7 179.4,392.4 178.3,393.7 C177.1,395.0 176.9,397.0 177.5,398.1 C178.1,399.2 179.7,399.8 181.7,400.3 C183.6,400.9 187.4,400.5 189.3,401.3 C191.2,402.1 192.0,403.7 193.1,405.1 C194.2,406.5 195.5,408.7 195.9,409.5 Z" stroke="#2a303c" stroke-width="1" fill="#fff" stroke-linejoin="round"/>
<path d="M207.3,398.8 C206.2,398.2 203.4,398.4 201.6,398.8 C199.8,399.2 197.8,400.2 196.5,401.3 C195.2,402.4 194.1,404.3 194.0,405.7 C193.9,407.0 194.8,408.8 195.9,409.5 C197.1,410.1 199.6,410.1 201.1,409.5 C202.6,408.8 203.6,406.8 204.9,405.7 C206.1,404.6 208.3,404.0 208.7,402.8 C209.1,401.7 208.5,399.5 207.3,398.8 Z" stroke="none" stroke-width="0" fill="#fff" />
<clipPath id="cl1"><path d="M207.3,398.8 C206.2,398.2 203.4,398.4 201.6,398.8 C199.8,399.2 197.8,400.2 196.5,401.3 C195.2,402.4 194.1,404.3 194.0,405.7 C193.9,407.0 194.8,408.8 195.9,409.5 C197.1,410.1 199.6,410.1 201.1,409.5 C202.6,408.8 203.6,406.8 204.9,405.7 C206.1,404.6 208.3,404.0 208.7,402.8 C209.1,401.7 208.5,399.5 207.3,398.8 Z"/></clipPath><g clip-path="url(#cl1)">
<path d="M227.3,412.3 C225.7,412.1 221.3,411.8 217.8,410.8 C214.3,409.8 209.8,407.9 206.4,406.4 C203.0,405.0 199.8,403.5 197.3,402.2 C194.7,401.0 192.2,399.4 191.2,398.8" stroke="#2a303c" stroke-width="4" fill="none" stroke-linecap="butt"/>
<path d="M227.3,412.3 C225.7,412.1 221.3,411.8 217.8,410.8 C214.3,409.8 209.8,407.9 206.4,406.4 C203.0,405.0 199.8,403.5 197.3,402.2 C194.7,401.0 192.2,399.4 191.2,398.8" stroke="#fff" stroke-width="2" fill="none" stroke-linecap="butt"/>
</g>
<path d="M207.3,398.8 C206.2,398.2 203.4,398.4 201.6,398.8 C199.8,399.2 197.8,400.2 196.5,401.3 C195.2,402.4 194.1,404.3 194.0,405.7 C193.9,407.0 194.8,408.8 195.9,409.5 C197.1,410.1 199.6,410.1 201.1,409.5 C202.6,408.8 203.6,406.8 204.9,405.7 C206.1,404.6 208.3,404.0 208.7,402.8 C209.1,401.7 208.5,399.5 207.3,398.8 Z" stroke="#2a303c" stroke-width="1" fill="none" />
<path d="M352.1,344.3 C352.4,343.4 353.6,341.4 354.0,339.3 C354.5,337.2 354.3,333.5 355.0,331.7 C355.6,329.9 356.5,328.5 357.8,328.5 C359.2,328.5 361.6,330.3 363.0,331.7 C364.3,333.1 365.1,335.4 366.0,337.0 C366.9,338.6 368.4,339.5 368.3,341.2 C368.2,343.0 366.5,345.4 365.4,347.5 C364.3,349.6 363.2,351.8 361.6,353.8 C360.1,355.8 357.6,358.4 355.9,359.5 C354.3,360.5 352.3,360.1 351.6,360.2 Z" stroke="#2a303c" stroke-width="1" fill="#fff" stroke-linejoin="round"/>
<path d="M352.1,344.3 C353.5,344.4 354.6,346.0 355.4,347.5 C356.1,349.0 356.6,351.4 356.5,353.2 C356.4,355.0 355.8,357.2 355.0,358.3 C354.2,359.5 352.8,360.3 351.6,360.2 C350.4,360.2 348.8,359.3 347.8,357.9 C346.7,356.6 345.6,354.1 345.5,352.2 C345.3,350.3 345.9,347.9 347.0,346.5 C348.1,345.2 350.7,344.1 352.1,344.3 Z" stroke="none" stroke-width="0" fill="#fff" />
<clipPath id="cl2"><path d="M352.1,344.3 C353.5,344.4 354.6,346.0 355.4,347.5 C356.1,349.0 356.6,351.4 356.5,353.2 C356.4,355.0 355.8,357.2 355.0,358.3 C354.2,359.5 352.8,360.3 351.6,360.2 C350.4,360.2 348.8,359.3 347.8,357.9 C346.7,356.6 345.6,354.1 345.5,352.2 C345.3,350.3 345.9,347.9 347.0,346.5 C348.1,345.2 350.7,344.1 352.1,344.3 Z"/></clipPath><g clip-path="url(#cl2)">
<path d="M343.6,366.1 C344.8,364.9 349.5,361.0 351.2,358.5 C352.8,356.0 352.7,353.8 353.5,351.3 C354.2,348.8 355.4,345.0 355.7,343.7" stroke="#2a303c" stroke-width="4" fill="none" stroke-linecap="butt"/>
<path d="M343.6,366.1 C344.8,364.9 349.5,361.0 351.2,358.5 C352.8,356.0 352.7,353.8 353.5,351.3 C354.2,348.8 355.4,345.0 355.7,343.7" stroke="#fff" stroke-width="2" fill="none" stroke-linecap="butt"/>
</g>
<path d="M352.1,344.3 C353.5,344.4 354.6,346.0 355.4,347.5 C356.1,349.0 356.6,351.4 356.5,353.2 C356.4,355.0 355.8,357.2 355.0,358.3 C354.2,359.5 352.8,360.3 351.6,360.2 C350.4,360.2 348.8,359.3 347.8,357.9 C346.7,356.6 345.6,354.1 345.5,352.2 C345.3,350.3 345.9,347.9 347.0,346.5 C348.1,345.2 350.7,344.1 352.1,344.3 Z" stroke="#2a303c" stroke-width="1" fill="none" />
<path d="M97.1,414.0 C95.6,413.7 91.2,413.1 88.5,412.1 C85.8,411.1 82.8,409.3 80.9,407.9 C79.0,406.6 77.7,404.5 77.1,403.8" stroke="#2a303c" stroke-width="1.4" fill="none" stroke-linecap="round"/>
<rect x="75.6" y="401.9" width="2.4" height="3.2" fill="#2a303c"/>
<path d="M97.1,414.8 L76.2,415.0" stroke="#2a303c" stroke-width="1.6" fill="none" stroke-linecap="round"/>
<path d="M76.7,413.7 C76.4,413.9 74.8,414.5 74.8,415.0 C74.8,415.4 76.4,416.1 76.7,416.3" stroke="#2a303c" stroke-width="1" fill="none" />
<path d="M97.1,415.6 C95.0,416.2 87.9,418.3 84.7,419.4 C81.5,420.4 79.2,421.3 78.1,421.6" stroke="#2a303c" stroke-width="1" fill="none" stroke-linecap="round"/>
<path d="M97.1,416.5 C95.2,417.2 88.7,419.6 85.7,420.7 C82.6,421.8 79.8,422.7 78.6,423.2" stroke="#2a303c" stroke-width="1" fill="none" stroke-linecap="round"/>
<g transform="rotate(25 74.4 422.8)"><rect x="72.1" y="420.1" width="4.6" height="5.4" rx="1.5" fill="#fff" stroke="#2a303c" stroke-width="1.2"/><path d="M74.4,420.1 V425.5 M72.1,422.8 H76.7" stroke="#2a303c" stroke-width="1" fill="none"/></g>
<path d="M96.1,417.1 C94.5,417.9 89.1,420.2 86.6,422.2 C84.1,424.2 82.6,426.9 81.3,428.9 C80.0,430.9 79.4,433.3 79.0,434.2" stroke="#2a303c" stroke-width="1.6" fill="none" stroke-linecap="round"/>
<g transform="rotate(20 78.1 436.5)"><rect x="76.0" y="433.7" width="4.2" height="5.6" rx="1.5" fill="#fff" stroke="#2a303c" stroke-width="1.2"/><path d="M78.1,433.7 V439.3 M76.0,436.5 H80.2" stroke="#2a303c" stroke-width="1" fill="none"/></g>
<rect x="88.5" y="412.5" width="8.0" height="2.2" fill="#2a303c"/>
<path d="M177.5,381.7 C176.4,380.3 173.4,375.9 171.2,373.3 C169.0,370.7 165.4,367.3 164.2,366.1" stroke="#2a303c" stroke-width="1" fill="none" stroke-linecap="round"/>
<path d="M176.3,382.5 C175.3,381.1 172.2,376.7 169.9,374.1 C167.6,371.5 163.9,368.2 162.7,367.1" stroke="#2a303c" stroke-width="1" fill="none" stroke-linecap="round"/>
<g transform="rotate(15 160.4 364.2)"><rect x="157.7" y="361.6" width="5.4" height="5.2" rx="2" fill="#fff" stroke="#2a303c" stroke-width="1.3"/><path d="M160.4,361.6 V366.8 M157.7,364.2 H163.1" stroke="#2a303c" stroke-width="1" fill="none"/></g>
<path d="M178.3,381.3 C177.3,379.6 174.1,374.0 172.5,370.9 C171.0,367.8 169.4,364.1 168.7,362.7" stroke="#2a303c" stroke-width="1.2" fill="none" stroke-linecap="round"/>
<line x1="166.5" y1="361.9" x2="170.3" y2="361.6" stroke="#2a303c" stroke-width="1.6"/>
<path d="M179.4,381.3 C178.7,379.9 175.7,375.5 175.2,372.8 C174.7,370.1 175.6,367.2 176.3,365.2 C177.1,363.1 179.2,361.2 179.8,360.4" stroke="#2a303c" stroke-width="2" fill="none" stroke-linecap="round"/>
<rect x="177.9" y="358.5" width="4.2" height="2.0" fill="#2a303c"/>
<path d="M176.3,383.2 C174.7,381.8 169.4,376.5 166.5,374.7 C163.5,372.8 161.1,372.6 158.9,372.2 C156.6,371.8 153.8,372.2 152.8,372.2" stroke="#2a303c" stroke-width="2.2" fill="none" stroke-linecap="round"/>
<g transform="rotate(0 149.4 372.8)"><rect x="146.4" y="371.0" width="6" height="3.6" rx="0.8" fill="#fff" stroke="#2a303c" stroke-width="1.2"/><path d="M149.4,371.0 V374.6 M146.4,372.8 H152.4" stroke="#2a303c" stroke-width="1" fill="none"/></g>
<circle cx="230.5" cy="393.3" r="2.5" stroke="#2a303c" stroke-width="1" fill="#2a303c"/>
<path d="M231.1,395.6 L234.0,398.8" stroke="#2a303c" stroke-width="1.4" fill="none" stroke-linecap="round"/>
<rect x="240.2" y="391.4" width="2.6" height="2.2" fill="#2a303c"/>
<path d="M240.6,393.1 L235.9,398.8" stroke="#2a303c" stroke-width="1.2" fill="none" stroke-linecap="round"/>
<rect x="228.5" y="398.9" width="8.0" height="13.0" rx="0" stroke="#2a303c" stroke-width="1.2" fill="none" />
<rect x="226.9" y="398.8" width="9.0" height="2.2" fill="#2a303c"/>
<line x1="219.7" y1="397.5" x2="227.7" y2="412.1" stroke="#2a303c" stroke-width="1.2"/>
<line x1="230.5" y1="400.7" x2="230.5" y2="406.0" stroke="#2a303c" stroke-width="1"/>
<path d="M234.0,413.7 C233.6,414.8 233.1,418.9 232.1,420.3 C231.0,421.7 228.4,421.9 227.7,422.2" stroke="#2a303c" stroke-width="1" fill="none" stroke-linecap="round"/>
<path d="M238.7,413.7 C238.6,414.6 238.8,418.0 238.3,419.4 C237.9,420.7 236.3,421.3 235.9,421.6" stroke="#2a303c" stroke-width="1.4" fill="none" stroke-linecap="round"/>
<rect x="234.1" y="420.9" width="3.0" height="3.0" fill="#2a303c"/>
<path d="M241.6,411.7 C242.4,412.5 246.1,414.3 246.7,416.5 C247.3,418.7 245.7,422.7 245.4,425.1 C245.0,427.4 244.6,429.8 244.4,430.8" stroke="#2a303c" stroke-width="1.8" fill="none" stroke-linecap="round"/>
<path d="M243.5,411.4 L248.2,416.5" stroke="#2a303c" stroke-width="1" fill="none" stroke-linecap="round"/>
<rect x="241.9" y="431.3" width="5.0" height="4.4" fill="#2a303c"/>
<path d="M383.1,322.2 C383.8,320.2 386.5,314.3 387.3,310.4 C388.1,306.6 387.9,300.9 388.1,299.0" stroke="#2a303c" stroke-width="2" fill="none" stroke-linecap="round"/>
<g transform="rotate(-5 386.7 294.3)"><rect x="384.0" y="291.3" width="5.4" height="6" rx="1.5" fill="#fff" stroke="#2a303c" stroke-width="1.3"/><path d="M386.7,291.3 V297.3 M384.0,294.3 H389.4" stroke="#2a303c" stroke-width="1" fill="none"/></g>
<path d="M383.9,321.4 C385.1,319.6 389.1,313.0 391.1,310.4 C393.1,307.9 394.9,306.9 395.7,306.2" stroke="#2a303c" stroke-width="1" fill="none" stroke-linecap="round"/>
<path d="M385.0,322.2 C386.3,320.3 390.7,313.4 392.6,310.8 C394.6,308.2 396.1,307.3 396.8,306.6" stroke="#2a303c" stroke-width="1" fill="none" stroke-linecap="round"/>
<g transform="rotate(15 396.8 303.8)"><rect x="394.3" y="300.8" width="5" height="6" rx="2" fill="#fff" stroke="#2a303c" stroke-width="1.3"/><path d="M396.8,300.8 V306.8 M394.3,303.8 H399.3" stroke="#2a303c" stroke-width="1" fill="none"/></g>
<path d="M385.0,323.0 C386.5,321.5 391.5,316.2 394.0,314.2 C396.4,312.3 398.7,311.7 399.7,311.2" stroke="#2a303c" stroke-width="1.2" fill="none" stroke-linecap="round"/>
<circle cx="400.2" cy="310.8" r="1.4" stroke="#2a303c" stroke-width="1" fill="#2a303c"/>
<path d="M383.5,324.1 C384.8,323.5 388.6,321.1 391.1,320.3 C393.6,319.5 396.4,319.4 398.7,319.5 C401.0,319.7 403.8,321.1 404.8,321.4" stroke="#2a303c" stroke-width="2" fill="none" stroke-linecap="round"/>
<ellipse cx="405.6" cy="321.4" rx="1.6" ry="2.6" transform="rotate(-20 405.6 321.4)" fill="#2a303c"/>
<path d="M379.3,310.4 C379.8,310.7 381.7,311.4 382.0,312.3 C382.3,313.3 381.9,315.3 381.2,316.1 C380.6,316.9 378.7,317.1 378.2,317.3" stroke="#2a303c" stroke-width="1" fill="none" />
<path d="M321.6,513.8 C323.3,516.1 329.5,523.1 332.1,528.0 C334.6,532.9 336.0,537.5 336.8,543.2 C337.7,548.9 337.6,556.2 337.2,562.2 C336.8,568.3 336.0,574.9 334.5,579.4 C333.0,583.8 330.4,586.5 328.3,588.9 C326.1,591.2 322.7,592.8 321.6,593.6" stroke="#2a303c" stroke-width="1" fill="none" stroke-linecap="round"/>
<path d="M323.1,512.4 C324.9,515.0 331.4,522.9 334.0,528.0 C336.5,533.2 337.5,537.5 338.3,543.2 C339.1,548.9 339.1,556.0 338.7,562.2 C338.3,568.5 336.3,577.8 335.9,580.9" stroke="#2a303c" stroke-width="1" fill="none" stroke-linecap="round"/>
<circle cx="321.2" cy="593.8" r="1.2" stroke="#2a303c" stroke-width="1" fill="none"/>
<path d="M368.5,500.0 C369.9,499.1 374.9,496.1 377.0,494.3 C379.2,492.5 380.8,491.2 381.2,489.2 C381.6,487.1 380.1,483.7 379.3,482.0 C378.6,480.2 377.1,479.1 376.7,478.5" stroke="#2a303c" stroke-width="1" fill="none" stroke-linecap="round"/>
<path d="M370.4,500.4 C371.9,499.4 377.3,496.2 379.3,494.3 C381.4,492.4 382.5,491.2 382.7,489.2 C383.0,487.1 381.7,483.8 380.8,482.0 C380.0,480.1 378.3,478.8 377.8,478.2" stroke="#2a303c" stroke-width="1" fill="none" stroke-linecap="round"/>
<g transform="rotate(-20 375.9 477.4)"><rect x="374.1" y="475.1" width="3.6" height="4.6" rx="1.2" fill="#fff" stroke="#2a303c" stroke-width="1.4"/><path d="M375.9,475.1 V479.7 M374.1,477.4 H377.7" stroke="#2a303c" stroke-width="1" fill="none"/></g>
<path d="M295.9,549.3 L296.9,562.2" stroke="#2a303c" stroke-width="1" fill="none" stroke-linecap="round"/>
<path d="M292.7,551.2 L293.7,562.6" stroke="#2a303c" stroke-width="1" fill="none" stroke-linecap="round"/>
<path d="M287.8,561.9 C288.2,559.7 290.9,559.7 293.1,558.8 C295.2,557.9 298.6,556.3 300.7,556.5 C302.7,556.7 304.4,557.4 305.4,560.0 C306.5,562.5 306.8,567.9 306.8,571.7 C306.8,575.6 306.4,580.9 305.4,583.2 C304.5,585.4 302.6,585.5 301.1,585.4 C299.5,585.4 297.7,582.6 295.9,582.8 C294.2,583.0 291.5,587.1 290.4,586.6 C289.3,586.0 289.3,581.8 289.3,579.4 C289.3,576.9 290.7,574.7 290.4,571.7 C290.2,568.8 287.3,564.0 287.8,561.9 Z" stroke="#2a303c" stroke-width="1" fill="#fff" />
<path d="M287.8,561.9 C289.0,562.1 292.7,563.4 295.0,563.2 C297.3,563.0 300.0,561.5 301.6,560.7 C303.3,559.9 304.3,558.8 304.9,558.4" stroke="#2a303c" stroke-width="1" fill="none" />
<path d="M56.1,571.3 C65.7,573.3 96.5,580.4 114.1,583.6 C131.7,586.8 149.8,589.2 161.6,590.5 C173.4,591.7 177.7,591.9 184.7,591.0 C191.7,590.0 197.1,587.8 203.7,584.5 C210.4,581.1 220.1,573.7 224.6,570.8 C229.1,567.9 229.7,567.8 230.7,567.2" stroke="#2a303c" stroke-width="5.4" fill="none" stroke-linecap="butt"/>
<path d="M56.1,571.3 C65.7,573.3 96.5,580.4 114.1,583.6 C131.7,586.8 149.8,589.2 161.6,590.5 C173.4,591.7 177.7,591.9 184.7,591.0 C191.7,590.0 197.1,587.8 203.7,584.5 C210.4,581.1 220.1,573.7 224.6,570.8 C229.1,567.9 229.7,567.8 230.7,567.2" stroke="#fff" stroke-width="3.4000000000000004" fill="none" stroke-linecap="butt"/>
<path d="M230.7,567.0 C227.8,566.3 218.7,564.9 213.2,562.8 C207.8,560.7 200.6,555.7 198.0,554.3" stroke="#2a303c" stroke-width="5" fill="none" stroke-linecap="butt"/>
<path d="M230.7,567.0 C227.8,566.3 218.7,564.9 213.2,562.8 C207.8,560.7 200.6,555.7 198.0,554.3" stroke="#fff" stroke-width="3" fill="none" stroke-linecap="butt"/>
<path d="M180.5,535.2 L168.6,524.2" stroke="#2a303c" stroke-width="5.4" fill="none" stroke-linecap="butt"/>
<path d="M180.5,535.2 L168.6,524.2" stroke="#fff" stroke-width="3.4000000000000004" fill="none" stroke-linecap="butt"/>
<path d="M228.8,567.9 C231.3,567.9 237.4,568.6 243.7,567.6 C249.9,566.6 258.2,564.9 266.5,561.9 C274.7,558.9 286.1,554.4 293.1,549.5 C300.1,544.6 303.9,538.7 308.3,532.4 C312.7,526.1 316.5,516.4 319.7,511.5 C322.9,506.6 324.1,505.0 327.3,502.9 C330.5,500.9 332.0,499.5 338.7,499.1 C345.4,498.7 358.0,499.9 367.5,500.6 C377.1,501.3 389.1,504.1 396.0,503.4 C403.0,502.8 405.6,500.7 409.4,496.8 C413.2,492.9 417.3,482.8 418.9,480.1" stroke="#2a303c" stroke-width="5" fill="none" stroke-linecap="butt"/>
<path d="M228.8,567.9 C231.3,567.9 237.4,568.6 243.7,567.6 C249.9,566.6 258.2,564.9 266.5,561.9 C274.7,558.9 286.1,554.4 293.1,549.5 C300.1,544.6 303.9,538.7 308.3,532.4 C312.7,526.1 316.5,516.4 319.7,511.5 C322.9,506.6 324.1,505.0 327.3,502.9 C330.5,500.9 332.0,499.5 338.7,499.1 C345.4,498.7 358.0,499.9 367.5,500.6 C377.1,501.3 389.1,504.1 396.0,503.4 C403.0,502.8 405.6,500.7 409.4,496.8 C413.2,492.9 417.3,482.8 418.9,480.1" stroke="#fff" stroke-width="3" fill="none" stroke-linecap="butt"/>
<path d="M437.5,457.2 C440.1,455.4 448.8,449.7 453.1,446.4 C457.3,443.1 461.3,439.0 463.0,437.5" stroke="#2a303c" stroke-width="5.6" fill="none" stroke-linecap="butt"/>
<path d="M437.5,457.2 C440.1,455.4 448.8,449.7 453.1,446.4 C457.3,443.1 461.3,439.0 463.0,437.5" stroke="#fff" stroke-width="3.5999999999999996" fill="none" stroke-linecap="butt"/>
<path d="M211.3,547.0 C209.4,545.7 203.9,541.7 199.9,539.0 C196.0,536.4 190.7,531.4 187.6,530.9 C184.4,530.3 183.4,534.1 180.9,535.6 C178.4,537.1 174.3,538.2 172.4,539.8 C170.5,541.4 169.3,543.6 169.5,545.1 C169.7,546.7 170.1,547.7 173.3,548.9 C176.5,550.2 185.1,551.0 188.5,552.7 C191.9,554.5 192.3,557.5 193.8,559.4 C195.4,561.3 197.3,563.4 198.0,564.1 Z" stroke="#2a303c" stroke-width="1" fill="#fff" stroke-linejoin="round"/>
<path d="M211.3,547.0 C209.7,546.4 206.0,547.0 203.7,547.6 C201.4,548.2 199.2,549.3 197.6,550.8 C196.1,552.4 194.2,554.7 194.2,556.9 C194.3,559.1 196.3,563.1 198.0,564.1 C199.8,565.2 202.9,564.1 204.7,563.2 C206.4,562.2 207.6,559.7 208.5,558.4 C209.3,557.2 208.9,556.8 209.8,555.6 C210.7,554.4 213.5,552.6 213.8,551.2 C214.1,549.8 213.0,547.6 211.3,547.0 Z" stroke="none" stroke-width="0" fill="#fff" />
<clipPath id="cl3"><path d="M211.3,547.0 C209.7,546.4 206.0,547.0 203.7,547.6 C201.4,548.2 199.2,549.3 197.6,550.8 C196.1,552.4 194.2,554.7 194.2,556.9 C194.3,559.1 196.3,563.1 198.0,564.1 C199.8,565.2 202.9,564.1 204.7,563.2 C206.4,562.2 207.6,559.7 208.5,558.4 C209.3,557.2 208.9,556.8 209.8,555.6 C210.7,554.4 213.5,552.6 213.8,551.2 C214.1,549.8 213.0,547.6 211.3,547.0 Z"/></clipPath><g clip-path="url(#cl3)">
<path d="M230.7,567.0 C227.8,566.3 218.7,564.9 213.2,562.8 C207.8,560.7 201.8,556.5 198.0,554.3 C194.2,552.0 191.7,550.1 190.4,549.3" stroke="#2a303c" stroke-width="5" fill="none" stroke-linecap="butt"/>
<path d="M230.7,567.0 C227.8,566.3 218.7,564.9 213.2,562.8 C207.8,560.7 201.8,556.5 198.0,554.3 C194.2,552.0 191.7,550.1 190.4,549.3" stroke="#fff" stroke-width="3" fill="none" stroke-linecap="butt"/>
</g>
<path d="M211.3,547.0 C209.7,546.4 206.0,547.0 203.7,547.6 C201.4,548.2 199.2,549.3 197.6,550.8 C196.1,552.4 194.2,554.7 194.2,556.9 C194.3,559.1 196.3,563.1 198.0,564.1 C199.8,565.2 202.9,564.1 204.7,563.2 C206.4,562.2 207.6,559.7 208.5,558.4 C209.3,557.2 208.9,556.8 209.8,555.6 C210.7,554.4 213.5,552.6 213.8,551.2 C214.1,549.8 213.0,547.6 211.3,547.0 Z" stroke="#2a303c" stroke-width="1" fill="none" />
<path d="M418.9,470.6 C419.5,469.6 421.9,468.0 422.7,464.8 C423.5,461.7 422.7,454.6 423.6,451.5 C424.6,448.5 426.6,446.9 428.4,446.8 C430.1,446.6 432.4,448.4 434.1,450.6 C435.7,452.8 436.8,457.6 438.3,460.1 C439.7,462.6 441.9,464.6 442.8,465.6 C443.7,466.7 444.7,464.2 443.6,466.4 C442.5,468.5 438.7,474.5 436.3,478.5 C434.0,482.6 431.4,488.2 429.3,490.5 C427.2,492.9 425.7,492.4 423.6,492.6 C421.6,492.8 418.1,492.0 417.0,491.8 Z" stroke="#2a303c" stroke-width="1" fill="#fff" stroke-linejoin="round"/>
<path d="M418.9,470.6 C420.6,470.7 422.3,472.6 423.2,474.4 C424.2,476.1 424.7,478.8 424.6,481.0 C424.5,483.2 423.9,485.9 422.7,487.7 C421.4,489.5 418.7,491.7 417.0,491.8 C415.2,492.0 413.3,490.4 412.2,488.6 C411.1,486.8 410.0,483.5 410.1,481.0 C410.2,478.5 411.3,475.1 412.8,473.4 C414.2,471.7 417.1,470.4 418.9,470.6 Z" stroke="none" stroke-width="0" fill="#fff" />
<clipPath id="cl4"><path d="M418.9,470.6 C420.6,470.7 422.3,472.6 423.2,474.4 C424.2,476.1 424.7,478.8 424.6,481.0 C424.5,483.2 423.9,485.9 422.7,487.7 C421.4,489.5 418.7,491.7 417.0,491.8 C415.2,492.0 413.3,490.4 412.2,488.6 C411.1,486.8 410.0,483.5 410.1,481.0 C410.2,478.5 411.3,475.1 412.8,473.4 C414.2,471.7 417.1,470.4 418.9,470.6 Z"/></clipPath><g clip-path="url(#cl4)">
<path d="M396.0,503.4 C398.3,502.3 405.6,500.7 409.4,496.8 C413.2,492.9 416.5,485.1 418.9,480.1 C421.2,475.1 422.8,469.0 423.6,466.7" stroke="#2a303c" stroke-width="5" fill="none" stroke-linecap="butt"/>
<path d="M396.0,503.4 C398.3,502.3 405.6,500.7 409.4,496.8 C413.2,492.9 416.5,485.1 418.9,480.1 C421.2,475.1 422.8,469.0 423.6,466.7" stroke="#fff" stroke-width="3" fill="none" stroke-linecap="butt"/>
</g>
<path d="M418.9,470.6 C420.6,470.7 422.3,472.6 423.2,474.4 C424.2,476.1 424.7,478.8 424.6,481.0 C424.5,483.2 423.9,485.9 422.7,487.7 C421.4,489.5 418.7,491.7 417.0,491.8 C415.2,492.0 413.3,490.4 412.2,488.6 C411.1,486.8 410.0,483.5 410.1,481.0 C410.2,478.5 411.3,475.1 412.8,473.4 C414.2,471.7 417.1,470.4 418.9,470.6 Z" stroke="#2a303c" stroke-width="1" fill="none" />
<path d="M57.0,568.6 C54.8,568.5 47.7,569.0 43.7,567.8 C39.8,566.7 36.0,563.9 33.3,561.7 C30.6,559.6 28.5,556.2 27.6,555.1" stroke="#2a303c" stroke-width="1.6" fill="none" stroke-linecap="round"/>
<ellipse cx="26.2" cy="553.8" rx="1.5" ry="3.4" transform="rotate(20 26.2 553.8)" fill="#2a303c"/>
<path d="M57.0,569.4 L24.3,572.2" stroke="#2a303c" stroke-width="1.8" fill="none" stroke-linecap="round"/>
<ellipse cx="23.6" cy="572.0" rx="0.9" ry="2.2" transform="rotate(15 23.6 572.0)" stroke="#2a303c" stroke-width="1" fill="none"/>
<path d="M55.5,570.9 C52.6,571.7 42.8,574.5 38.0,576.0 C33.2,577.5 28.5,579.2 26.6,579.8" stroke="#2a303c" stroke-width="1" fill="none" stroke-linecap="round"/>
<path d="M55.5,572.0 C52.6,572.9 42.8,575.8 38.0,577.3 C33.3,578.9 28.8,580.5 27.0,581.1" stroke="#2a303c" stroke-width="1" fill="none" stroke-linecap="round"/>
<g transform="rotate(25 22.4 582.7)"><rect x="19.6" y="579.0" width="5.6" height="7.4" rx="2" fill="#fff" stroke="#2a303c" stroke-width="1.3"/><path d="M22.4,579.0 V586.4 M19.6,582.7 H25.2" stroke="#2a303c" stroke-width="1" fill="none"/></g>
<path d="M55.1,573.5 C52.8,574.6 44.5,577.0 40.9,579.8 C37.2,582.6 35.0,587.3 33.3,590.3 C31.5,593.3 30.9,596.6 30.4,597.9" stroke="#2a303c" stroke-width="1" fill="none" stroke-linecap="round"/>
<path d="M54.2,572.8 C51.7,573.8 43.3,576.1 39.5,578.9 C35.8,581.6 33.7,586.2 31.9,589.3 C30.2,592.4 29.4,596.1 28.9,597.5" stroke="#2a303c" stroke-width="1" fill="none" stroke-linecap="round"/>
<g transform="rotate(20 28.5 600.3)"><rect x="26.0" y="597.1" width="5" height="6.4" rx="2" fill="#fff" stroke="#2a303c" stroke-width="1.3"/><path d="M28.5,597.1 V603.5 M26.0,600.3 H31.0" stroke="#2a303c" stroke-width="1" fill="none"/></g>
<rect x="46.6" y="568.6" width="8.0" height="1.8" fill="#2a303c"/>
<g transform="rotate(0 130.2 510.4)"><rect x="125.6" y="506.9" width="9.2" height="7" rx="2" fill="#fff" stroke="#2a303c" stroke-width="1.3"/><path d="M130.2,506.9 V513.9 M125.6,510.4 H134.8" stroke="#2a303c" stroke-width="1" fill="none"/></g>
<path d="M135.4,509.8 C136.9,509.9 141.1,508.8 144.5,510.0 C147.9,511.2 152.1,514.5 155.9,517.1 C159.7,519.7 165.4,524.2 167.3,525.6" stroke="#2a303c" stroke-width="2" fill="none" stroke-linecap="round"/>
<g transform="rotate(0 145.6 498.1)"><rect x="142.1" y="494.7" width="7" height="6.8" rx="1.5" fill="#fff" stroke="#2a303c" stroke-width="1.3"/><path d="M145.6,494.7 V501.5 M142.1,498.1 H149.1" stroke="#2a303c" stroke-width="1" fill="none"/></g>
<line x1="150.5" y1="495.6" x2="150.5" y2="500.0" stroke="#2a303c" stroke-width="1"/>
<path d="M149.8,500.9 L168.3,525.6" stroke="#2a303c" stroke-width="1" fill="none" stroke-linecap="round"/>
<path d="M151.3,500.2 L169.6,524.9" stroke="#2a303c" stroke-width="1" fill="none" stroke-linecap="round"/>
<rect x="154.8" y="494.4" width="4.4" height="2.0" rx="0" stroke="#2a303c" stroke-width="1" fill="none" />
<path d="M157.0,496.3 L170.2,524.7" stroke="#2a303c" stroke-width="1.2" fill="none" stroke-linecap="round"/>
<ellipse cx="173.4" cy="491.4" rx="4" ry="1.5" transform="rotate(0 173.4 491.4)" fill="#2a303c"/>
<path d="M173.4,492.4 C172.4,494.3 168.3,499.5 167.3,503.8 C166.3,508.0 167.0,514.5 167.7,518.0 C168.3,521.5 170.5,523.7 171.1,524.9" stroke="#2a303c" stroke-width="2.2" fill="none" stroke-linecap="round"/>
<circle cx="245.9" cy="540.4" r="2.8" stroke="#2a303c" stroke-width="1" fill="#2a303c"/>
<path d="M247.1,543.2 L251.3,547.0" stroke="#2a303c" stroke-width="1.4" fill="none" stroke-linecap="round"/>
<rect x="260.4" y="537.5" width="3.4" height="2.6" fill="#2a303c"/>
<path d="M260.8,539.8 L253.2,547.0" stroke="#2a303c" stroke-width="1.2" fill="none" stroke-linecap="round"/>
<rect x="244.5" y="548.9" width="10.0" height="18.0" rx="0" stroke="#2a303c" stroke-width="1.1" fill="none" />
<rect x="239.5" y="547.8" width="14.0" height="2.6" fill="#2a303c"/>
<line x1="230.7" y1="545.7" x2="243.7" y2="566.0" stroke="#2a303c" stroke-width="1.1"/>
<circle cx="230.5" cy="545.5" r="0.8" stroke="#2a303c" stroke-width="0.8" fill="none"/>
<line x1="245.5" y1="550.8" x2="245.5" y2="560.3" stroke="#2a303c" stroke-width="1"/>
<path d="M254.7,568.3 C254.2,569.7 253.7,574.3 251.6,576.5 C249.5,578.8 243.7,580.9 242.1,581.8" stroke="#2a303c" stroke-width="1.1" fill="none" stroke-linecap="round"/>
<path d="M258.5,567.9 C258.4,569.2 258.4,573.7 257.9,575.6 C257.4,577.5 255.8,578.7 255.4,579.4" stroke="#2a303c" stroke-width="1.4" fill="none" stroke-linecap="round"/>
<circle cx="253.2" cy="580.9" r="2.6" stroke="#2a303c" stroke-width="1" fill="#2a303c"/>
<path d="M261.7,567.0 C262.8,568.0 267.3,570.3 268.0,573.3 C268.7,576.3 266.2,581.7 265.7,585.1 C265.2,588.4 265.2,592.2 265.1,593.6" stroke="#2a303c" stroke-width="1" fill="none" stroke-linecap="round"/>
<path d="M264.2,566.4 C265.1,567.5 269.3,569.8 269.9,572.9 C270.5,576.0 268.0,581.6 267.6,585.1 C267.2,588.5 267.3,592.2 267.2,593.6" stroke="#2a303c" stroke-width="1" fill="none" stroke-linecap="round"/>
<rect x="262.3" y="594.2" width="7.6" height="6.4" fill="#2a303c"/>
<rect x="263.6" y="595.5" width="5.0" height="1.2" fill="#fff"/>
<path d="M461.1,436.7 C462.3,434.4 466.6,427.5 468.3,423.0 C470.0,418.5 470.9,412.9 471.3,409.7 C471.8,406.5 471.0,405.0 471.0,404.0" stroke="#2a303c" stroke-width="1" fill="none" stroke-linecap="round"/>
<path d="M462.6,436.7 C463.9,434.4 468.5,427.5 470.2,423.0 C471.9,418.5 472.3,412.9 472.7,409.7 C473.0,406.5 472.2,405.0 472.1,404.0" stroke="#2a303c" stroke-width="1" fill="none" stroke-linecap="round"/>
<g transform="rotate(-8 468.7 398.7)"><rect x="465.5" y="394.9" width="6.4" height="7.6" rx="2" fill="#fff" stroke="#2a303c" stroke-width="1.3"/><path d="M468.7,394.9 V402.5 M465.5,398.7 H471.9" stroke="#2a303c" stroke-width="1" fill="none"/></g>
<path d="M462.2,437.9 L479.7,417.7" stroke="#2a303c" stroke-width="1" fill="none" stroke-linecap="round"/>
<path d="M463.7,438.6 L481.2,418.5" stroke="#2a303c" stroke-width="1" fill="none" stroke-linecap="round"/>
<g transform="rotate(12 483.5 412.0)"><rect x="480.3" y="408.2" width="6.4" height="7.6" rx="2" fill="#fff" stroke="#2a303c" stroke-width="1.3"/><path d="M483.5,408.2 V415.8 M480.3,412.0 H486.7" stroke="#2a303c" stroke-width="1" fill="none"/></g>
<path d="M464.1,439.2 C466.7,437.3 475.8,430.5 479.7,427.8 C483.6,425.1 486.0,423.8 487.3,423.0" stroke="#2a303c" stroke-width="1.2" fill="none" stroke-linecap="round"/>
<ellipse cx="488.3" cy="422.1" rx="1" ry="1.8" transform="rotate(10 488.3 422.1)" stroke="#2a303c" stroke-width="1" fill="none"/>
<path d="M463.0,441.3 C464.5,440.4 468.7,437.1 472.1,436.0 C475.5,434.8 479.9,434.2 483.5,434.4 C487.1,434.7 492.2,436.8 494.0,437.3" stroke="#2a303c" stroke-width="2" fill="none" stroke-linecap="round"/>
<ellipse cx="495.9" cy="437.9" rx="1.9" ry="3.6" transform="rotate(-10 495.9 437.9)" fill="#2a303c"/>
<path d="M957.0,462.8 C959.0,465.8 965.4,474.7 969.3,480.8 C973.2,487.0 977.8,494.1 980.2,499.8 C982.5,505.6 982.9,510.2 983.2,515.1 C983.5,519.9 982.2,523.6 982.1,529.2 C982.1,534.7 983.1,540.5 982.7,548.4 C982.4,556.2 981.4,569.3 980.0,576.2 C978.6,583.0 977.0,585.7 974.3,589.6 C971.5,593.4 966.2,596.6 963.5,599.2 C960.9,601.7 959.1,604.0 958.2,604.9" stroke="#2a303c" stroke-width="1" fill="none" stroke-linecap="round"/>
<path d="M958.9,461.4 C961.0,464.6 967.8,474.1 971.8,480.5 C975.7,486.9 980.3,494.1 982.6,499.8 C985.0,505.6 985.5,510.2 985.9,515.1 C986.3,519.9 985.1,523.6 985.0,529.2 C985.0,534.7 986.0,540.3 985.6,548.4 C985.2,556.4 984.3,570.3 982.7,577.5 C981.2,584.7 979.1,587.6 976.2,591.5 C973.3,595.4 966.9,599.3 965.1,600.9" stroke="#2a303c" stroke-width="1" fill="none" stroke-linecap="round"/>
<ellipse cx="956.8" cy="605.7" rx="2" ry="1.3" transform="rotate(-30 956.8 605.7)" stroke="#2a303c" stroke-width="1" fill="#fff"/>
<path d="M1023.1,443.2 C1025.7,445.3 1034.3,451.6 1038.7,456.1 C1043.1,460.7 1047.2,466.3 1049.4,470.4 C1051.5,474.5 1051.3,476.6 1051.6,480.8 C1051.9,485.1 1051.3,491.6 1051.1,496.0 C1050.8,500.5 1050.3,505.6 1050.1,507.5" stroke="#2a303c" stroke-width="1" fill="none" stroke-linecap="round"/>
<path d="M1025.8,443.2 C1028.4,445.3 1037.1,451.7 1041.6,456.1 C1046.0,460.6 1050.2,465.7 1052.4,469.8 C1054.6,473.9 1054.4,476.5 1054.7,480.8 C1055.0,485.2 1054.7,491.6 1054.3,496.0 C1053.9,500.5 1052.7,505.6 1052.4,507.5" stroke="#2a303c" stroke-width="1" fill="none" stroke-linecap="round"/>
<rect x="1046.3" y="508.0" width="7.6" height="4.8" fill="#2a303c"/>
<rect x="1047.5" y="509.4" width="3.0" height="1.6" fill="#fff"/>
<path d="M1040.0,442.5 C1041.6,440.9 1046.5,435.6 1049.5,432.7 C1052.5,429.7 1056.0,428.1 1058.1,425.1 C1060.2,422.0 1062.1,417.9 1062.1,414.6 C1062.0,411.3 1058.3,406.7 1057.5,405.1" stroke="#2a303c" stroke-width="4.4" fill="none" stroke-linecap="butt"/>
<path d="M1040.0,442.5 C1041.6,440.9 1046.5,435.6 1049.5,432.7 C1052.5,429.7 1056.0,428.1 1058.1,425.1 C1060.2,422.0 1062.1,417.9 1062.1,414.6 C1062.0,411.3 1058.3,406.7 1057.5,405.1" stroke="#fff" stroke-width="2.4" fill="none" stroke-linecap="butt"/>
<rect x="1048.2" y="393.2" width="10.8" height="9.4" rx="3.6" fill="#2a303c"/>
<rect x="1050.6" y="395.2" width="2.2" height="1.6" fill="#fff"/>
<rect x="1054.2" y="395.0" width="2.4" height="1.6" fill="#fff"/>
<rect x="1051.0" y="398.6" width="5.6" height="1.0" fill="#fff"/>
<path d="M906.0,529.2 C905.9,530.8 904.9,535.2 905.3,538.8 C905.6,542.3 907.5,548.4 907.9,550.3" stroke="#2a303c" stroke-width="1" fill="none" stroke-linecap="round"/>
<path d="M911.4,525.7 C911.5,527.6 911.2,532.9 911.8,536.8 C912.3,540.8 914.3,547.2 914.8,549.3" stroke="#2a303c" stroke-width="1" fill="none" stroke-linecap="round"/>
<path d="M896.4,547.4 C896.8,545.2 899.6,544.1 901.2,543.0 C902.8,541.9 903.3,541.4 906.0,540.7 C908.7,539.9 914.4,537.9 917.5,538.4 C920.7,538.9 923.1,541.1 924.8,543.7 C926.6,546.4 927.2,550.5 928.1,554.1 C929.0,557.7 930.0,561.5 930.2,565.6 C930.4,569.8 929.9,574.9 929.4,579.0 C928.9,583.2 928.6,588.9 927.1,590.5 C925.6,592.2 922.6,589.5 920.4,589.0 C918.2,588.5 915.9,587.3 913.7,587.7 C911.5,588.0 909.1,589.9 907.0,590.9 C904.9,591.9 902.5,594.3 901.2,593.6 C899.9,592.9 899.4,589.8 899.1,586.7 C898.8,583.6 899.1,578.7 899.5,575.2 C899.9,571.7 901.5,568.8 901.4,565.6 C901.4,562.4 899.9,559.1 899.1,556.0 C898.3,553.0 896.1,549.6 896.4,547.4 Z" stroke="#2a303c" stroke-width="1" fill="#fff" />
<path d="M896.4,547.4 C898.4,548.0 904.7,550.7 907.9,551.2 C911.1,551.7 912.8,551.5 915.6,550.3 C918.4,549.1 923.1,545.2 924.6,544.1" stroke="#2a303c" stroke-width="1" fill="none" />
<path d="M906.0,540.7 L908.3,550.7" stroke="#2a303c" stroke-width="1" fill="none" stroke-linecap="round"/>
<path d="M913.3,539.1 L915.2,549.9" stroke="#2a303c" stroke-width="1" fill="none" stroke-linecap="round"/>
<path d="M485.3,560.8 C494.4,562.8 522.5,569.1 540.0,573.0 C557.5,576.9 574.0,581.2 590.0,584.4 C606.0,587.6 622.2,590.2 636.2,592.2 C650.2,594.2 662.2,595.9 673.7,596.6 C685.2,597.3 696.5,597.1 705.4,596.3 C714.3,595.5 719.9,593.8 727.1,591.9 C734.3,590.0 742.3,588.3 748.7,585.0 C755.1,581.7 759.8,576.3 765.3,572.1 C770.8,567.9 779.1,562.0 781.9,560.0 L789.4,562.6 C786.9,564.5 778.8,570.6 774.3,574.3 C769.8,578.0 766.3,582.1 762.3,585.0 C758.2,587.9 754.7,589.6 750.0,591.7 C745.3,593.8 740.5,595.9 734.3,597.7 C728.1,599.6 719.4,601.6 712.7,602.8 C706.0,603.9 700.9,604.5 693.9,604.6 C686.9,604.7 680.4,604.2 670.8,603.5 C661.2,602.8 649.7,602.0 636.2,600.3 C622.7,598.6 606.0,596.2 590.0,593.4 C574.0,590.6 555.7,586.4 540.0,583.5 C524.3,580.6 505.6,578.4 495.9,576.2 C486.1,574.0 483.9,571.4 481.5,570.4 Z" stroke="none" stroke-width="0" fill="#fff" />
<path d="M485.3,560.8 C494.4,562.8 522.5,569.1 540.0,573.0 C557.5,576.9 574.0,581.2 590.0,584.4 C606.0,587.6 622.2,590.2 636.2,592.2 C650.2,594.2 662.2,595.9 673.7,596.6 C685.2,597.3 696.5,597.1 705.4,596.3 C714.3,595.5 719.9,593.8 727.1,591.9 C734.3,590.0 742.3,588.3 748.7,585.0 C755.1,581.7 759.8,576.3 765.3,572.1 C770.8,567.9 779.1,562.0 781.9,560.0" stroke="#2a303c" stroke-width="1" fill="none" stroke-linecap="round"/>
<path d="M481.5,570.4 C483.9,571.4 486.1,574.0 495.9,576.2 C505.6,578.4 524.3,580.6 540.0,583.5 C555.7,586.4 574.0,590.6 590.0,593.4 C606.0,596.2 622.7,598.6 636.2,600.3 C649.7,602.0 661.2,602.8 670.8,603.5 C680.4,604.2 686.9,604.7 693.9,604.6 C700.9,604.5 706.0,603.9 712.7,602.8 C719.4,601.6 728.1,599.6 734.3,597.7 C740.5,595.9 745.3,593.8 750.0,591.7 C754.7,589.6 758.2,587.9 762.3,585.0 C766.3,582.1 769.8,578.0 774.3,574.3 C778.8,570.6 786.9,564.5 789.4,562.6" stroke="#2a303c" stroke-width="1" fill="none" stroke-linecap="round"/>
<path d="M683.2,483.2 L703.1,504.1" stroke="#2a303c" stroke-width="8.6" fill="none" stroke-linecap="butt"/>
<path d="M683.2,483.2 L703.1,504.1" stroke="#fff" stroke-width="6.6" fill="none" stroke-linecap="butt"/>
<path d="M724.0,522.0 C726.3,523.5 732.3,527.2 737.9,530.7 C743.5,534.2 751.7,539.3 757.8,542.7 C763.9,546.1 768.5,548.9 774.3,551.0 C780.1,553.1 786.6,554.3 792.4,555.5 C798.2,556.7 802.2,558.2 809.3,558.3 C816.4,558.4 826.8,557.8 835.0,556.3 C843.2,554.8 852.9,551.5 858.8,549.4 C864.6,547.3 863.2,548.1 870.1,543.8 C877.0,539.5 891.4,531.3 900.2,523.5 C909.0,515.7 917.8,503.2 922.8,497.1 C927.8,491.0 926.3,492.8 930.0,487.0 C933.7,481.2 940.1,469.1 945.1,462.2 C950.1,455.3 955.1,449.6 960.1,445.6 C965.1,441.6 968.9,439.9 975.2,438.1 C981.5,436.4 990.3,435.3 997.8,435.1 C1005.3,434.9 1013.4,436.0 1020.4,436.9 C1027.4,437.8 1033.7,439.1 1040.0,440.2 C1046.3,441.3 1051.8,442.7 1058.1,443.3 C1064.4,443.9 1071.2,444.5 1077.7,444.0 C1084.2,443.5 1091.4,442.2 1097.2,440.2 C1103.0,438.2 1108.2,435.4 1112.3,432.0 C1116.4,428.6 1119.6,424.3 1122.1,419.9 C1124.6,415.5 1125.8,410.5 1127.3,405.6 C1128.8,400.7 1130.5,393.0 1131.1,390.5 L1140.2,399.6 C1139.6,401.1 1138.0,404.6 1136.4,408.6 C1134.8,412.6 1133.4,419.1 1130.4,423.7 C1127.4,428.3 1123.3,432.7 1118.3,436.5 C1113.3,440.3 1107.0,444.0 1100.2,446.3 C1093.4,448.6 1084.5,450.1 1077.7,450.5 C1070.9,450.9 1065.9,449.3 1059.6,448.5 C1053.3,447.7 1046.0,446.4 1040.0,445.5 C1034.0,444.6 1027.7,443.9 1023.4,443.3 C1019.1,442.7 1018.6,442.2 1014.3,441.8 C1010.0,441.4 1003.6,440.6 997.8,440.8 C992.0,441.1 984.7,441.8 979.7,443.3 C974.7,444.9 971.3,447.2 967.7,450.1 C964.1,453.0 961.7,455.7 957.9,460.7 C954.1,465.7 948.7,474.9 945.1,480.2 C941.5,485.5 941.9,485.5 936.4,492.6 C930.9,499.7 920.8,514.3 912.3,522.7 C903.8,531.1 893.5,537.8 885.2,543.0 C877.0,548.2 870.5,550.9 862.8,553.8 C855.1,556.7 847.6,558.7 839.0,560.3 C830.4,561.9 819.6,562.9 811.3,563.3 C803.0,563.6 794.3,562.9 789.4,562.4 C784.5,561.9 784.9,561.0 781.9,560.0 C778.9,559.0 776.1,558.2 771.3,556.3 C766.5,554.4 759.9,552.0 753.3,548.7 C746.6,545.4 737.3,540.1 731.4,536.7 C725.5,533.3 720.2,529.9 718.0,528.5 Z" stroke="none" stroke-width="0" fill="#fff" />
<path d="M724.0,522.0 C726.3,523.5 732.3,527.2 737.9,530.7 C743.5,534.2 751.7,539.3 757.8,542.7 C763.9,546.1 768.5,548.9 774.3,551.0 C780.1,553.1 786.6,554.3 792.4,555.5 C798.2,556.7 802.2,558.2 809.3,558.3 C816.4,558.4 826.8,557.8 835.0,556.3 C843.2,554.8 852.9,551.5 858.8,549.4 C864.6,547.3 863.2,548.1 870.1,543.8 C877.0,539.5 891.4,531.3 900.2,523.5 C909.0,515.7 917.8,503.2 922.8,497.1 C927.8,491.0 926.3,492.8 930.0,487.0 C933.7,481.2 940.1,469.1 945.1,462.2 C950.1,455.3 955.1,449.6 960.1,445.6 C965.1,441.6 968.9,439.9 975.2,438.1 C981.5,436.4 990.3,435.3 997.8,435.1 C1005.3,434.9 1013.4,436.0 1020.4,436.9 C1027.4,437.8 1033.7,439.1 1040.0,440.2 C1046.3,441.3 1051.8,442.7 1058.1,443.3 C1064.4,443.9 1071.2,444.5 1077.7,444.0 C1084.2,443.5 1091.4,442.2 1097.2,440.2 C1103.0,438.2 1108.2,435.4 1112.3,432.0 C1116.4,428.6 1119.6,424.3 1122.1,419.9 C1124.6,415.5 1125.8,410.5 1127.3,405.6 C1128.8,400.7 1130.5,393.0 1131.1,390.5" stroke="#2a303c" stroke-width="1" fill="none" stroke-linecap="round"/>
<path d="M718.0,528.5 C720.2,529.9 725.5,533.3 731.4,536.7 C737.3,540.1 746.6,545.4 753.3,548.7 C759.9,552.0 766.5,554.4 771.3,556.3 C776.1,558.2 780.1,559.4 781.9,560.0" stroke="#2a303c" stroke-width="1" fill="none" stroke-linecap="round"/>
<path d="M789.4,562.4 C793.0,562.5 803.0,563.6 811.3,563.3 C819.6,562.9 830.4,561.9 839.0,560.3 C847.6,558.7 855.1,556.7 862.8,553.8 C870.5,550.9 877.0,548.2 885.2,543.0 C893.5,537.8 903.8,531.1 912.3,522.7 C920.8,514.3 930.9,499.7 936.4,492.6 C941.9,485.5 941.5,485.5 945.1,480.2 C948.7,474.9 954.1,465.7 957.9,460.7 C961.7,455.7 964.1,453.0 967.7,450.1 C971.3,447.2 974.7,444.9 979.7,443.3 C984.7,441.8 992.0,441.1 997.8,440.8 C1003.6,440.6 1010.0,441.4 1014.3,441.8 C1018.6,442.2 1019.1,442.7 1023.4,443.3 C1027.7,443.9 1034.0,444.6 1040.0,445.5 C1046.0,446.4 1053.3,447.7 1059.6,448.5 C1065.9,449.3 1070.9,450.9 1077.7,450.5 C1084.5,450.1 1093.4,448.6 1100.2,446.3 C1107.0,444.0 1113.3,440.3 1118.3,436.5 C1123.3,432.7 1127.4,428.3 1130.4,423.7 C1133.4,419.1 1134.8,412.6 1136.4,408.6 C1138.0,404.6 1139.6,401.1 1140.2,399.6" stroke="#2a303c" stroke-width="1" fill="none" stroke-linecap="round"/>
<path d="M1164.5,364.6 C1167.4,363.9 1176.6,363.2 1181.6,360.4 C1186.7,357.7 1190.8,352.7 1194.9,348.1 C1199.1,343.5 1204.3,336.0 1206.3,332.9 C1208.4,329.7 1207.1,329.7 1207.2,329.0" stroke="#2a303c" stroke-width="9.6" fill="none" stroke-linecap="butt"/>
<path d="M1164.5,364.6 C1167.4,363.9 1176.6,363.2 1181.6,360.4 C1186.7,357.7 1190.8,352.7 1194.9,348.1 C1199.1,343.5 1204.3,336.0 1206.3,332.9 C1208.4,329.7 1207.1,329.7 1207.2,329.0" stroke="#fff" stroke-width="7.6" fill="none" stroke-linecap="butt"/>
<path d="M774.7,559.7 L782.6,560.7 L778.6,564.9 Z" stroke="#2a303c" stroke-width="1" fill="#fff" stroke-linejoin="round"/>
<path d="M762.5,524.7 C758.7,522.0 747.2,514.1 739.7,508.9 C732.2,503.7 723.2,494.5 717.5,493.7 C711.8,492.8 709.9,501.3 705.5,503.8 C701.1,506.2 694.6,506.1 691.3,508.5 C687.9,510.9 685.6,514.9 685.2,518.0 C684.7,521.2 684.9,525.5 688.4,527.5 C692.0,529.6 701.6,529.1 706.5,530.4 C711.4,531.6 714.1,532.4 717.9,535.1 C721.7,537.8 726.7,543.8 729.3,546.5 C731.8,549.3 731.2,550.3 733.1,551.5 C735.0,552.7 739.4,553.4 740.7,553.8 Z" stroke="#2a303c" stroke-width="1" fill="#fff" stroke-linejoin="round"/>
<path d="M762.5,524.9 C760.6,523.7 755.7,524.4 752.1,524.5 C748.4,524.6 743.9,524.7 740.7,525.6 C737.5,526.5 734.9,527.9 733.1,529.8 C731.2,531.7 730.2,534.6 729.7,537.0 C729.1,539.5 729.1,542.3 729.7,544.6 C730.2,547.0 731.2,549.8 733.1,551.3 C734.9,552.8 737.8,553.6 740.7,553.8 C743.5,553.9 747.3,553.4 750.2,552.2 C753.1,551.0 756.8,548.8 758.2,546.5 C759.5,544.3 757.3,541.1 758.2,538.6 C759.1,536.0 762.8,533.6 763.5,531.3 C764.2,529.0 764.4,526.0 762.5,524.9 Z" stroke="none" stroke-width="0" fill="#fff" />
<clipPath id="cl5"><path d="M762.5,524.9 C760.6,523.7 755.7,524.4 752.1,524.5 C748.4,524.6 743.9,524.7 740.7,525.6 C737.5,526.5 734.9,527.9 733.1,529.8 C731.2,531.7 730.2,534.6 729.7,537.0 C729.1,539.5 729.1,542.3 729.7,544.6 C730.2,547.0 731.2,549.8 733.1,551.3 C734.9,552.8 737.8,553.6 740.7,553.8 C743.5,553.9 747.3,553.4 750.2,552.2 C753.1,551.0 756.8,548.8 758.2,546.5 C759.5,544.3 757.3,541.1 758.2,538.6 C759.1,536.0 762.8,533.6 763.5,531.3 C764.2,529.0 764.4,526.0 762.5,524.9 Z"/></clipPath><g clip-path="url(#cl5)">
<path d="M724.0,522.0 C726.3,523.5 732.3,527.2 737.9,530.7 C743.5,534.2 751.7,539.3 757.8,542.7 C763.9,546.1 768.5,548.9 774.3,551.0 C780.1,553.1 786.6,554.3 792.4,555.5 C798.2,556.7 806.5,557.8 809.3,558.3 L789.4,562.4 C788.1,562.0 784.9,561.0 781.9,560.0 C778.9,559.0 776.1,558.2 771.3,556.3 C766.5,554.4 759.9,552.0 753.3,548.7 C746.6,545.4 737.3,540.1 731.4,536.7 C725.5,533.3 720.2,529.9 718.0,528.5 Z" stroke="none" stroke-width="0" fill="#fff" />
<path d="M724.0,522.0 C726.3,523.5 732.3,527.2 737.9,530.7 C743.5,534.2 751.7,539.3 757.8,542.7 C763.9,546.1 768.5,548.9 774.3,551.0 C780.1,553.1 786.6,554.3 792.4,555.5 C798.2,556.7 806.5,557.8 809.3,558.3" stroke="#2a303c" stroke-width="1" fill="none" stroke-linecap="round"/>
<path d="M718.0,528.5 C720.2,529.9 725.5,533.3 731.4,536.7 C737.3,540.1 746.6,545.4 753.3,548.7 C759.9,552.0 766.5,554.4 771.3,556.3 C776.1,558.2 778.9,559.0 781.9,560.0 C784.9,561.0 788.1,562.0 789.4,562.4" stroke="#2a303c" stroke-width="1" fill="none" stroke-linecap="round"/>
</g>
<path d="M762.5,524.9 C760.6,523.7 755.7,524.4 752.1,524.5 C748.4,524.6 743.9,524.7 740.7,525.6 C737.5,526.5 734.9,527.9 733.1,529.8 C731.2,531.7 730.2,534.6 729.7,537.0 C729.1,539.5 729.1,542.3 729.7,544.6 C730.2,547.0 731.2,549.8 733.1,551.3 C734.9,552.8 737.8,553.6 740.7,553.8 C743.5,553.9 747.3,553.4 750.2,552.2 C753.1,551.0 756.8,548.8 758.2,546.5 C759.5,544.3 757.3,541.1 758.2,538.6 C759.1,536.0 762.8,533.6 763.5,531.3 C764.2,529.0 764.4,526.0 762.5,524.9 Z" stroke="#2a303c" stroke-width="1" fill="none" />
<path d="M1122.1,388.0 C1124.0,386.6 1130.5,382.8 1133.2,379.4 C1135.8,376.1 1136.8,373.1 1137.9,368.0 C1139.0,363.0 1138.1,352.8 1139.8,349.0 C1141.6,345.2 1145.5,345.2 1148.4,345.2 C1151.2,345.2 1154.4,346.0 1156.9,349.0 C1159.5,352.0 1160.6,358.6 1163.6,363.3 C1166.5,368.0 1172.6,374.7 1174.6,377.1 C1176.6,379.6 1177.8,374.2 1175.4,377.9 C1172.9,381.6 1165.0,392.1 1159.8,399.4 C1154.6,406.7 1147.9,417.6 1144.2,421.8 C1140.4,426.0 1138.5,424.0 1137.3,424.5 Z" stroke="#2a303c" stroke-width="1" fill="#fff" stroke-linejoin="round"/>
<path d="M1122.1,388.0 C1124.7,386.5 1128.3,387.6 1131.3,389.3 C1134.2,391.1 1137.8,394.7 1139.8,398.4 C1141.9,402.2 1143.1,407.9 1143.6,411.7 C1144.1,415.6 1143.7,419.7 1142.7,421.8 C1141.6,423.9 1139.6,424.3 1137.3,424.5 C1135.1,424.7 1132.0,424.2 1129.4,423.2 C1126.8,422.1 1123.9,420.9 1121.7,418.4 C1119.6,415.9 1117.4,411.3 1116.4,407.9 C1115.5,404.6 1115.1,401.8 1116.0,398.4 C1117.0,395.1 1119.6,389.5 1122.1,388.0 Z" stroke="none" stroke-width="0" fill="#fff" />
<clipPath id="cl6"><path d="M1122.1,388.0 C1124.7,386.5 1128.3,387.6 1131.3,389.3 C1134.2,391.1 1137.8,394.7 1139.8,398.4 C1141.9,402.2 1143.1,407.9 1143.6,411.7 C1144.1,415.6 1143.7,419.7 1142.7,421.8 C1141.6,423.9 1139.6,424.3 1137.3,424.5 C1135.1,424.7 1132.0,424.2 1129.4,423.2 C1126.8,422.1 1123.9,420.9 1121.7,418.4 C1119.6,415.9 1117.4,411.3 1116.4,407.9 C1115.5,404.6 1115.1,401.8 1116.0,398.4 C1117.0,395.1 1119.6,389.5 1122.1,388.0 Z"/></clipPath><g clip-path="url(#cl6)">
<path d="M1058.1,443.3 C1061.4,443.4 1071.2,444.5 1077.7,444.0 C1084.2,443.5 1091.4,442.2 1097.2,440.2 C1103.0,438.2 1108.2,435.4 1112.3,432.0 C1116.4,428.6 1119.6,424.3 1122.1,419.9 C1124.6,415.5 1125.8,410.5 1127.3,405.6 C1128.8,400.7 1130.5,393.0 1131.1,390.5 L1140.2,399.6 C1139.6,401.1 1138.0,404.6 1136.4,408.6 C1134.8,412.6 1133.4,419.1 1130.4,423.7 C1127.4,428.3 1123.3,432.7 1118.3,436.5 C1113.3,440.3 1107.0,444.0 1100.2,446.3 C1093.4,448.6 1084.5,450.1 1077.7,450.5 C1070.9,450.9 1062.6,448.8 1059.6,448.5 Z" stroke="none" stroke-width="0" fill="#fff" />
<path d="M1058.1,443.3 C1061.4,443.4 1071.2,444.5 1077.7,444.0 C1084.2,443.5 1091.4,442.2 1097.2,440.2 C1103.0,438.2 1108.2,435.4 1112.3,432.0 C1116.4,428.6 1119.6,424.3 1122.1,419.9 C1124.6,415.5 1125.8,410.5 1127.3,405.6 C1128.8,400.7 1130.5,393.0 1131.1,390.5" stroke="#2a303c" stroke-width="1" fill="none" stroke-linecap="round"/>
<path d="M1059.6,448.5 C1062.6,448.8 1070.9,450.9 1077.7,450.5 C1084.5,450.1 1093.4,448.6 1100.2,446.3 C1107.0,444.0 1113.3,440.3 1118.3,436.5 C1123.3,432.7 1127.4,428.3 1130.4,423.7 C1133.4,419.1 1134.8,412.6 1136.4,408.6 C1138.0,404.6 1139.6,401.1 1140.2,399.6" stroke="#2a303c" stroke-width="1" fill="none" stroke-linecap="round"/>
</g>
<path d="M1122.1,388.0 C1124.7,386.5 1128.3,387.6 1131.3,389.3 C1134.2,391.1 1137.8,394.7 1139.8,398.4 C1141.9,402.2 1143.1,407.9 1143.6,411.7 C1144.1,415.6 1143.7,419.7 1142.7,421.8 C1141.6,423.9 1139.6,424.3 1137.3,424.5 C1135.1,424.7 1132.0,424.2 1129.4,423.2 C1126.8,422.1 1123.9,420.9 1121.7,418.4 C1119.6,415.9 1117.4,411.3 1116.4,407.9 C1115.5,404.6 1115.1,401.8 1116.0,398.4 C1117.0,395.1 1119.6,389.5 1122.1,388.0 Z" stroke="#2a303c" stroke-width="1" fill="none" />
<path d="M779.6,553.0 C780.4,552.0 782.5,548.8 784.6,547.4 C786.6,546.0 789.1,544.7 791.9,544.5 C794.7,544.2 798.6,544.9 801.4,545.8 C804.1,546.8 806.5,548.2 808.3,550.4 C810.1,552.6 811.7,556.7 812.3,559.3 C812.8,561.9 811.8,565.1 811.7,566.2" stroke="#2a303c" stroke-width="1" fill="none" />
<path d="M781.6,554.4 C782.4,553.5 784.7,550.3 786.5,549.0 C788.3,547.7 790.2,546.7 792.5,546.4 C794.8,546.2 798.1,546.7 800.4,547.6 C802.7,548.5 804.7,549.8 806.3,551.8 C808.0,553.8 809.5,557.5 810.1,559.7 C810.7,561.9 809.8,564.3 809.7,565.2" stroke="#2a303c" stroke-width="1" fill="none" />
<path d="M811.7,564.3 C810.6,566.4 809.0,572.5 805.3,577.1 C801.7,581.7 796.1,586.6 789.5,592.0 C782.9,597.3 769.7,606.3 765.7,609.2" stroke="#2a303c" stroke-width="2.8" fill="none" stroke-linecap="butt"/>
<path d="M811.7,564.3 C810.6,566.4 809.0,572.5 805.3,577.1 C801.7,581.7 796.1,586.6 789.5,592.0 C782.9,597.3 769.7,606.3 765.7,609.2" stroke="#fff" stroke-width="1.2" fill="none" stroke-linecap="butt"/>
<path d="M811.7,564.3 C810.6,566.4 809.0,572.5 805.3,577.1 C801.7,581.7 796.1,586.6 789.5,592.0 C782.9,597.3 769.7,606.3 765.7,609.2" stroke="#2a303c" stroke-width="2.2" fill="none" stroke-dasharray="0.8 1.2" stroke-opacity="0.55"/>
<path d="M766.1,607.2 L763.8,610.4 L767.3,610.0" stroke="#2a303c" stroke-width="1" fill="none" />
<path d="M819.2,526.6 C820.6,524.6 825.0,529.7 828.1,529.2 C831.3,528.7 836.4,521.6 838.0,523.7 C839.6,525.7 838.5,536.4 837.8,541.5 C837.2,546.6 835.8,551.3 834.1,554.4 C832.3,557.4 829.6,559.2 827.1,559.7 C824.7,560.2 820.5,560.4 819.2,557.3 C818.0,554.3 819.6,546.6 819.6,541.5 C819.6,536.4 817.8,528.7 819.2,526.6 Z" stroke="#2a303c" stroke-width="1" fill="#fff" />
<path d="M819.2,526.6 L822.8,523.7 L827.1,529.2 L831.5,528.8 L833.1,524.1 L838.0,523.7" stroke="#2a303c" stroke-width="1.3" fill="none" />
<circle cx="821.8" cy="510.4" r="5.4" stroke="#2a303c" stroke-width="1.4" fill="#2a303c"/>
<circle cx="821.8" cy="510.4" r="2.4" stroke="#2a303c" stroke-width="0.8" fill="#2a303c"/>
<circle cx="821.8" cy="510.4" r="3.6" stroke="#fff" stroke-width="0.6" fill="none" stroke-dasharray="1.2 1"/>
<path d="M823.2,515.7 C823.8,516.4 826.2,518.1 827.1,519.7 C828.1,521.3 828.4,524.3 828.7,525.2" stroke="#2a303c" stroke-width="1" fill="none" stroke-linecap="round"/>
<path d="M825.1,515.3 C825.8,516.1 828.3,518.1 829.1,519.7 C830.0,521.4 830.1,524.3 830.3,525.2" stroke="#2a303c" stroke-width="1" fill="none" stroke-linecap="round"/>
<rect x="846.5" y="506.6" width="7.4" height="3.6" fill="#2a303c"/>
<path d="M846.9,509.4 C845.6,510.5 841.3,513.2 839.0,515.7 C836.7,518.3 834.1,523.2 833.1,524.7" stroke="#2a303c" stroke-width="1.3" fill="none" stroke-linecap="round"/>
<rect x="810.3" y="524.9" width="7.4" height="3.8" fill="#2a303c"/>
<line x1="817.6" y1="526.4" x2="820.0" y2="527.6" stroke="#2a303c" stroke-width="1"/>
<rect x="820.0" y="544.7" width="3.6" height="2.0" fill="#2a303c"/>
<circle cx="794.1" cy="521.3" r="1.5" stroke="#2a303c" stroke-width="1" fill="none"/>
<line x1="795.0" y1="522.9" x2="818.2" y2="557.3" stroke="#2a303c" stroke-width="1.1"/>
<rect x="788.1" y="565.4" width="5.4" height="2.8" fill="#2a303c"/>
<line x1="782.6" y1="563.7" x2="788.5" y2="566.2" stroke="#2a303c" stroke-width="1"/>
<path d="M838.0,561.3 C837.5,562.9 836.5,568.2 834.7,571.2 C832.8,574.2 830.4,576.9 827.1,579.1 C823.9,581.4 817.2,583.7 815.2,584.7" stroke="#2a303c" stroke-width="1.2" fill="none" stroke-linecap="round"/>
<path d="M817.2,583.1 L814.5,584.7 L816.8,585.8" stroke="#2a303c" stroke-width="1" fill="none" />
<path d="M844.0,560.3 C843.7,561.8 842.5,566.6 842.6,569.2 C842.6,571.8 844.5,574.2 844.2,576.1 C843.8,578.1 841.2,580.3 840.6,581.1" stroke="#2a303c" stroke-width="1.4" fill="none" stroke-linecap="round"/>
<circle cx="835.0" cy="582.7" r="3.9" stroke="#2a303c" stroke-width="1.5" fill="#2a303c"/>
<rect x="833.1" y="581.5" width="4.0" height="1.0" fill="#fff"/>
<rect x="833.1" y="583.1" width="4.0" height="1.0" fill="#fff"/>
<path d="M851.9,558.3 C853.0,559.5 857.3,562.8 858.8,565.2 C860.4,567.7 861.5,569.2 861.2,573.2 C860.9,577.1 857.6,583.4 856.8,589.0 C856.0,594.6 856.5,603.9 856.4,606.8" stroke="#2a303c" stroke-width="1" fill="none" stroke-linecap="round"/>
<path d="M854.9,557.7 C856.1,558.9 860.7,562.3 862.4,564.9 C864.0,567.4 865.1,569.1 864.8,573.2 C864.4,577.2 860.8,583.4 860.0,589.0 C859.2,594.6 860.0,603.9 860.0,606.8" stroke="#2a303c" stroke-width="1" fill="none" stroke-linecap="round"/>
<rect x="850.4" y="607" width="13.6" height="11.6" rx="1.5" fill="#2a303c"/>
<rect x="852.6" y="610.4" width="9.2" height="1.3" fill="#fff"/>
<rect x="852.6" y="614.0" width="9.2" height="1.2" fill="#fff"/>
<path d="M484.4,560.2 C480.2,560.2 465.7,561.4 459.4,560.2 C453.2,559.1 451.2,557.0 447.0,553.1 C442.8,549.2 436.3,539.6 434.1,536.8" stroke="#2a303c" stroke-width="1" fill="none" stroke-linecap="round"/>
<path d="M484.4,561.4 C480.1,561.4 464.9,562.6 458.5,561.4 C452.0,560.2 450.0,558.0 445.6,554.1 C441.3,550.2 434.8,540.7 432.6,538.0" stroke="#2a303c" stroke-width="1" fill="none" stroke-linecap="round"/>
<ellipse cx="429.1" cy="535.3" rx="2.5" ry="6.4" transform="rotate(18 429.1 535.3)" fill="#2a303c"/>
<path d="M483.4,562.2 L428.8,567.1" stroke="#2a303c" stroke-width="1.6" fill="none" stroke-linecap="round"/>
<path d="M423.0,566.6 L425.5,561.8 L428.0,564.1 L425.7,571.0 Z" stroke="#2a303c" stroke-width="1.2" fill="#fff" stroke-linejoin="round"/>
<path d="M481.5,565.6 C476.2,566.9 458.3,570.8 449.9,573.3 C441.4,575.8 433.9,579.4 430.7,580.6" stroke="#2a303c" stroke-width="1" fill="none" stroke-linecap="round"/>
<path d="M482.1,567.1 C476.9,568.4 459.2,572.3 450.8,574.8 C442.4,577.3 434.8,581.0 431.6,582.3" stroke="#2a303c" stroke-width="1" fill="none" stroke-linecap="round"/>
<g transform="rotate(12 423.0 585.7)"><rect x="415.8" y="577.9" width="14.4" height="15.6" rx="4" fill="#fff" stroke="#2a303c" stroke-width="1.4"/><path d="M423.0,577.9 V593.5 M415.8,585.7 H430.2" stroke="#2a303c" stroke-width="1" fill="none"/></g>
<path d="M481.5,569.8 C477.5,571.2 463.9,574.5 457.5,578.1 C451.1,581.7 446.9,585.7 443.1,591.5 C439.4,597.2 436.3,609.1 434.9,612.6" stroke="#2a303c" stroke-width="1" fill="none" stroke-linecap="round"/>
<path d="M482.8,571.4 C478.9,572.7 465.7,575.9 459.4,579.4 C453.2,582.9 448.9,586.8 445.3,592.5 C441.6,598.1 438.9,609.7 437.6,613.2" stroke="#2a303c" stroke-width="1" fill="none" stroke-linecap="round"/>
<g transform="rotate(12 433.0 620.8)"><rect x="425.8" y="612.6" width="14.4" height="16.4" rx="4" fill="#fff" stroke="#2a303c" stroke-width="1.4"/><path d="M433.0,612.6 V629.0 M425.8,620.8 H440.2" stroke="#2a303c" stroke-width="1" fill="none"/></g>
<g transform="rotate(0 615.1 457.0)"><rect x="607.5" y="450.7" width="15.2" height="12.6" rx="2.2" fill="#fff" stroke="#2a303c" stroke-width="1.3"/><path d="M615.1,450.7 V463.3 M607.5,457.0 H622.7" stroke="#2a303c" stroke-width="1" fill="none"/></g>
<rect x="611.3" y="449.2" width="7.6" height="2.4" rx="0" stroke="#2a303c" stroke-width="1" fill="none" />
<path d="M622.7,454.9 C625.6,455.0 633.9,453.6 640.4,455.6 C646.8,457.7 654.7,462.3 661.3,467.0 C667.9,471.7 676.7,481.0 679.7,483.8" stroke="#2a303c" stroke-width="1" fill="none" stroke-linecap="round"/>
<path d="M622.7,456.8 C625.6,456.9 633.6,455.5 639.8,457.5 C646.0,459.6 653.6,464.3 660.0,468.9 C666.3,473.6 674.9,482.6 677.8,485.3" stroke="#2a303c" stroke-width="1" fill="none" stroke-linecap="round"/>
<g transform="rotate(0 643.8 434.9)"><rect x="635.8" y="428.5" width="16" height="12.8" rx="3.4" fill="#fff" stroke="#2a303c" stroke-width="1.4"/><path d="M643.8,428.5 V441.3 M635.8,434.9 H651.8" stroke="#2a303c" stroke-width="1" fill="none"/></g>
<path d="M650.5,440.8 L681.6,483.2" stroke="#2a303c" stroke-width="1" fill="none" stroke-linecap="round"/>
<path d="M648.6,441.9 L679.7,484.1" stroke="#2a303c" stroke-width="1" fill="none" stroke-linecap="round"/>
<ellipse cx="663.0" cy="430.9" rx="4.2" ry="1.9" transform="rotate(0 663.0 430.9)" stroke="#2a303c" stroke-width="1.2" fill="#fff"/>
<path d="M662.6,433.2 L684.1,483.2" stroke="#2a303c" stroke-width="2" fill="none" stroke-linecap="round"/>
<ellipse cx="692.7" cy="423.1" rx="7.2" ry="2.7" transform="rotate(0 692.7 423.1)" fill="#2a303c"/>
<path d="M687.9,423.1 h9.5" stroke="#fff" stroke-width="0.8" fill="none" stroke-dasharray="1 0.8"/>
<path d="M692.3,426.2 C690.5,429.2 683.7,438.0 681.6,444.2 C679.5,450.4 679.0,456.8 679.7,463.2 C680.5,469.6 685.0,479.4 686.0,482.6" stroke="#2a303c" stroke-width="1" fill="none" stroke-linecap="round"/>
<path d="M694.2,426.2 C692.4,429.2 685.6,438.0 683.5,444.2 C681.5,450.4 681.3,456.9 682.0,463.2 C682.7,469.6 686.9,479.1 687.9,482.2" stroke="#2a303c" stroke-width="1" fill="none" stroke-linecap="round"/>
<path d="M1206.2,327.0 C1207.7,324.1 1212.7,314.8 1215.1,309.2 C1217.6,303.6 1219.7,298.3 1221.1,293.4 C1222.4,288.4 1223.0,283.9 1223.0,279.5 C1223.0,275.1 1221.4,269.3 1221.1,267.2" stroke="#2a303c" stroke-width="1" fill="none" stroke-linecap="round"/>
<path d="M1207.8,327.4 C1209.4,324.4 1214.5,314.9 1217.1,309.2 C1219.7,303.5 1222.1,298.3 1223.4,293.4 C1224.8,288.4 1225.4,283.9 1225.4,279.5 C1225.5,275.1 1224.1,269.3 1223.8,267.2" stroke="#2a303c" stroke-width="1" fill="none" stroke-linecap="round"/>
<g transform="rotate(-8 1219.5 258.1)"><rect x="1212.7" y="250.3" width="13.6" height="15.6" rx="4" fill="#fff" stroke="#2a303c" stroke-width="1.5"/><path d="M1219.5,250.3 V265.9 M1212.7,258.1 H1226.3" stroke="#2a303c" stroke-width="1" fill="none"/></g>
<path d="M1207.2,328.4 L1241.3,289.4" stroke="#2a303c" stroke-width="1" fill="none" stroke-linecap="round"/>
<path d="M1209.2,329.0 L1243.2,290.6" stroke="#2a303c" stroke-width="1" fill="none" stroke-linecap="round"/>
<g transform="rotate(-5 1246.0 282.1)"><rect x="1239.2" y="274.3" width="13.6" height="15.6" rx="4" fill="#fff" stroke="#2a303c" stroke-width="1.5"/><path d="M1246.0,274.3 V289.9 M1239.2,282.1 H1252.8" stroke="#2a303c" stroke-width="1" fill="none"/></g>
<path d="M1209.6,330.0 C1213.1,327.5 1223.8,320.0 1231.0,315.1 C1238.1,310.3 1248.8,303.3 1252.4,300.9" stroke="#2a303c" stroke-width="1.8" fill="none" stroke-linecap="round"/>
<ellipse cx="1254.7" cy="300.1" rx="2.2" ry="4.6" transform="rotate(-5 1254.7 300.1)" stroke="#2a303c" stroke-width="1.2" fill="#fff"/>
<path d="M1208.8,332.0 C1211.8,330.4 1221.3,324.8 1227.0,322.7 C1232.7,320.6 1238.2,319.7 1242.9,319.5 C1247.5,319.3 1251.1,320.3 1254.7,321.5 C1258.4,322.7 1263.0,325.8 1264.6,326.6" stroke="#2a303c" stroke-width="1" fill="none" stroke-linecap="round"/>
<path d="M1209.6,333.8 C1212.7,332.2 1222.5,326.5 1228.0,324.5 C1233.5,322.4 1238.5,321.7 1242.9,321.5 C1247.2,321.3 1250.4,322.3 1253.9,323.5 C1257.4,324.6 1262.2,327.6 1263.8,328.4" stroke="#2a303c" stroke-width="1" fill="none" stroke-linecap="round"/>
<ellipse cx="1267.8" cy="327.8" rx="3" ry="6.8" transform="rotate(-8 1267.8 327.8)" fill="#2a303c"/>
</g>
</svg>
</body></html>
